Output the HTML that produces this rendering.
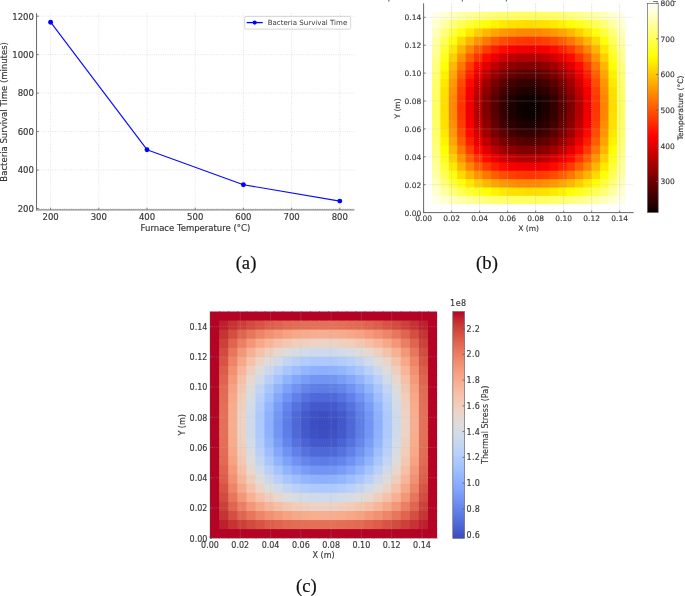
<!DOCTYPE html>
<html lang="en"><head><meta charset="utf-8"><title>Figure</title>
<style>html,body{margin:0;padding:0;background:#fff}svg{display:block}</style></head>
<body>
<svg width="685" height="596" viewBox="0 0 685 596">
<rect width="685" height="596" fill="#fff"/>
<g stroke="#cecece" stroke-width="0.7" stroke-dasharray="0.8 1.5" fill="none">
<path d="M50.60 13.2V209.9"/>
<path d="M98.80 13.2V209.9"/>
<path d="M147.00 13.2V209.9"/>
<path d="M195.20 13.2V209.9"/>
<path d="M243.40 13.2V209.9"/>
<path d="M291.60 13.2V209.9"/>
<path d="M339.80 13.2V209.9"/>
<path d="M36.55 208.50H354.4"/>
<path d="M36.55 170.04H354.4"/>
<path d="M36.55 131.58H354.4"/>
<path d="M36.55 93.12H354.4"/>
<path d="M36.55 54.66H354.4"/>
<path d="M36.55 16.20H354.4"/>
</g>
<g stroke="#5a5a5a" stroke-width="0.8" fill="none">
<path d="M50.60 209.9v-2.2"/>
<path d="M98.80 209.9v-2.2"/>
<path d="M147.00 209.9v-2.2"/>
<path d="M195.20 209.9v-2.2"/>
<path d="M243.40 209.9v-2.2"/>
<path d="M291.60 209.9v-2.2"/>
<path d="M339.80 209.9v-2.2"/>
<path d="M36.55 208.50h2.2"/>
<path d="M36.55 170.04h2.2"/>
<path d="M36.55 131.58h2.2"/>
<path d="M36.55 93.12h2.2"/>
<path d="M36.55 54.66h2.2"/>
<path d="M36.55 16.20h2.2"/>
</g>
<path d="M50.60 22.20 L147.00 149.70 L243.40 184.70 L339.80 201.10" stroke="#0a0aff" stroke-width="1.15" fill="none" stroke-linejoin="round"/>
<circle cx="50.60" cy="22.20" r="2.45" fill="#0000ff"/>
<circle cx="147.00" cy="149.70" r="2.45" fill="#0000ff"/>
<circle cx="243.40" cy="184.70" r="2.45" fill="#0000ff"/>
<circle cx="339.80" cy="201.10" r="2.45" fill="#0000ff"/>
<path d="M36.55 13.2V210.5" stroke="#666" stroke-width="1" fill="none"/>
<path d="M36.05 209.9H354.4" stroke="#888" stroke-width="1.4" fill="none"/>
<g font-family="'DejaVu Sans','Liberation Sans',sans-serif" font-size="8.5" fill="#383838" stroke="#383838" stroke-width="0.18">
<text x="50.60" y="219.6" text-anchor="middle">200</text>
<text x="98.80" y="219.6" text-anchor="middle">300</text>
<text x="147.00" y="219.6" text-anchor="middle">400</text>
<text x="195.20" y="219.6" text-anchor="middle">500</text>
<text x="243.40" y="219.6" text-anchor="middle">600</text>
<text x="291.60" y="219.6" text-anchor="middle">700</text>
<text x="339.80" y="219.6" text-anchor="middle">800</text>
<text x="33.95" y="211.80" text-anchor="end">200</text>
<text x="33.95" y="173.34" text-anchor="end">400</text>
<text x="33.95" y="134.88" text-anchor="end">600</text>
<text x="33.95" y="96.42" text-anchor="end">800</text>
<text x="33.95" y="57.96" text-anchor="end">1000</text>
<text x="33.95" y="19.50" text-anchor="end">1200</text>
<text x="195.47" y="231.1" text-anchor="middle">Furnace Temperature (°C)</text>
<text transform="translate(6.7 111.85) rotate(-90)" text-anchor="middle">Bacteria Survival Time (minutes)</text>
</g>
<rect x="244.7" y="16.4" width="106" height="12.7" rx="1.4" fill="#fff" fill-opacity="0.8" stroke="#cccccc" stroke-width="0.8"/>
<path d="M246.7 22.6H262.7" stroke="#0000ff" stroke-width="1.3"/>
<circle cx="254.7" cy="22.6" r="2.1" fill="#0000ff"/>
<text x="267.7" y="25.2" font-family="'DejaVu Sans','Liberation Sans',sans-serif" font-size="7.07" fill="#383838">Bacteria Survival Time</text>
<g>
<rect x="423.60" y="3.35" width="9.40" height="9.37" fill="#ffffff"/>
<rect x="432.00" y="3.35" width="9.40" height="9.37" fill="#ffffff"/>
<rect x="440.41" y="3.35" width="9.40" height="9.37" fill="#ffffff"/>
<rect x="448.81" y="3.35" width="9.40" height="9.37" fill="#ffffff"/>
<rect x="457.22" y="3.35" width="9.40" height="9.37" fill="#ffffff"/>
<rect x="465.62" y="3.35" width="9.40" height="9.37" fill="#ffffff"/>
<rect x="474.02" y="3.35" width="9.40" height="9.37" fill="#ffffff"/>
<rect x="482.43" y="3.35" width="9.40" height="9.37" fill="#ffffff"/>
<rect x="490.83" y="3.35" width="9.40" height="9.37" fill="#ffffff"/>
<rect x="499.24" y="3.35" width="9.40" height="9.37" fill="#ffffff"/>
<rect x="507.64" y="3.35" width="9.40" height="9.37" fill="#ffffff"/>
<rect x="516.04" y="3.35" width="9.40" height="9.37" fill="#ffffff"/>
<rect x="524.45" y="3.35" width="9.40" height="9.37" fill="#ffffff"/>
<rect x="532.85" y="3.35" width="9.40" height="9.37" fill="#ffffff"/>
<rect x="541.26" y="3.35" width="9.40" height="9.37" fill="#ffffff"/>
<rect x="549.66" y="3.35" width="9.40" height="9.37" fill="#ffffff"/>
<rect x="558.06" y="3.35" width="9.40" height="9.37" fill="#ffffff"/>
<rect x="566.47" y="3.35" width="9.40" height="9.37" fill="#ffffff"/>
<rect x="574.87" y="3.35" width="9.40" height="9.37" fill="#ffffff"/>
<rect x="583.28" y="3.35" width="9.40" height="9.37" fill="#ffffff"/>
<rect x="591.68" y="3.35" width="9.40" height="9.37" fill="#ffffff"/>
<rect x="600.08" y="3.35" width="9.40" height="9.37" fill="#ffffff"/>
<rect x="608.49" y="3.35" width="9.40" height="9.37" fill="#ffffff"/>
<rect x="616.89" y="3.35" width="9.40" height="9.37" fill="#ffffff"/>
<rect x="625.30" y="3.35" width="8.40" height="9.37" fill="#ffffff"/>
<rect x="423.60" y="11.72" width="9.40" height="9.37" fill="#ffffff"/>
<rect x="432.00" y="11.72" width="9.40" height="9.37" fill="#ffffe7"/>
<rect x="440.41" y="11.72" width="9.40" height="9.37" fill="#ffffd0"/>
<rect x="448.81" y="11.72" width="9.40" height="9.37" fill="#ffffbc"/>
<rect x="457.22" y="11.72" width="9.40" height="9.37" fill="#ffffa8"/>
<rect x="465.62" y="11.72" width="9.40" height="9.37" fill="#ffff99"/>
<rect x="474.02" y="11.72" width="9.40" height="9.37" fill="#ffff89"/>
<rect x="482.43" y="11.72" width="9.40" height="9.37" fill="#ffff7d"/>
<rect x="490.83" y="11.72" width="9.40" height="9.37" fill="#ffff71"/>
<rect x="499.24" y="11.72" width="9.40" height="9.37" fill="#ffff69"/>
<rect x="507.64" y="11.72" width="9.40" height="9.37" fill="#ffff65"/>
<rect x="516.04" y="11.72" width="9.40" height="9.37" fill="#ffff61"/>
<rect x="524.45" y="11.72" width="9.40" height="9.37" fill="#ffff61"/>
<rect x="532.85" y="11.72" width="9.40" height="9.37" fill="#ffff61"/>
<rect x="541.26" y="11.72" width="9.40" height="9.37" fill="#ffff65"/>
<rect x="549.66" y="11.72" width="9.40" height="9.37" fill="#ffff69"/>
<rect x="558.06" y="11.72" width="9.40" height="9.37" fill="#ffff71"/>
<rect x="566.47" y="11.72" width="9.40" height="9.37" fill="#ffff7d"/>
<rect x="574.87" y="11.72" width="9.40" height="9.37" fill="#ffff89"/>
<rect x="583.28" y="11.72" width="9.40" height="9.37" fill="#ffff99"/>
<rect x="591.68" y="11.72" width="9.40" height="9.37" fill="#ffffa8"/>
<rect x="600.08" y="11.72" width="9.40" height="9.37" fill="#ffffbc"/>
<rect x="608.49" y="11.72" width="9.40" height="9.37" fill="#ffffd0"/>
<rect x="616.89" y="11.72" width="9.40" height="9.37" fill="#ffffe7"/>
<rect x="625.30" y="11.72" width="8.40" height="9.37" fill="#ffffff"/>
<rect x="423.60" y="20.09" width="9.40" height="9.37" fill="#ffffff"/>
<rect x="432.00" y="20.09" width="9.40" height="9.37" fill="#ffffd0"/>
<rect x="440.41" y="20.09" width="9.40" height="9.37" fill="#ffffa4"/>
<rect x="448.81" y="20.09" width="9.40" height="9.37" fill="#ffff79"/>
<rect x="457.22" y="20.09" width="9.40" height="9.37" fill="#ffff56"/>
<rect x="465.62" y="20.09" width="9.40" height="9.37" fill="#ffff36"/>
<rect x="474.02" y="20.09" width="9.40" height="9.37" fill="#ffff1b"/>
<rect x="482.43" y="20.09" width="9.40" height="9.37" fill="#ffff03"/>
<rect x="490.83" y="20.09" width="9.40" height="9.37" fill="#fff400"/>
<rect x="499.24" y="20.09" width="9.40" height="9.37" fill="#ffe900"/>
<rect x="507.64" y="20.09" width="9.40" height="9.37" fill="#ffe100"/>
<rect x="516.04" y="20.09" width="9.40" height="9.37" fill="#ffdf00"/>
<rect x="524.45" y="20.09" width="9.40" height="9.37" fill="#ffdc00"/>
<rect x="532.85" y="20.09" width="9.40" height="9.37" fill="#ffdf00"/>
<rect x="541.26" y="20.09" width="9.40" height="9.37" fill="#ffe100"/>
<rect x="549.66" y="20.09" width="9.40" height="9.37" fill="#ffe900"/>
<rect x="558.06" y="20.09" width="9.40" height="9.37" fill="#fff400"/>
<rect x="566.47" y="20.09" width="9.40" height="9.37" fill="#ffff03"/>
<rect x="574.87" y="20.09" width="9.40" height="9.37" fill="#ffff1b"/>
<rect x="583.28" y="20.09" width="9.40" height="9.37" fill="#ffff36"/>
<rect x="591.68" y="20.09" width="9.40" height="9.37" fill="#ffff56"/>
<rect x="600.08" y="20.09" width="9.40" height="9.37" fill="#ffff79"/>
<rect x="608.49" y="20.09" width="9.40" height="9.37" fill="#ffffa4"/>
<rect x="616.89" y="20.09" width="9.40" height="9.37" fill="#ffffd0"/>
<rect x="625.30" y="20.09" width="8.40" height="9.37" fill="#ffffff"/>
<rect x="423.60" y="28.46" width="9.40" height="9.37" fill="#ffffff"/>
<rect x="432.00" y="28.46" width="9.40" height="9.37" fill="#ffffbc"/>
<rect x="440.41" y="28.46" width="9.40" height="9.37" fill="#ffff79"/>
<rect x="448.81" y="28.46" width="9.40" height="9.37" fill="#ffff42"/>
<rect x="457.22" y="28.46" width="9.40" height="9.37" fill="#ffff0b"/>
<rect x="465.62" y="28.46" width="9.40" height="9.37" fill="#ffe900"/>
<rect x="474.02" y="28.46" width="9.40" height="9.37" fill="#ffcf00"/>
<rect x="482.43" y="28.46" width="9.40" height="9.37" fill="#ffb700"/>
<rect x="490.83" y="28.46" width="9.40" height="9.37" fill="#ffa500"/>
<rect x="499.24" y="28.46" width="9.40" height="9.37" fill="#ff9800"/>
<rect x="507.64" y="28.46" width="9.40" height="9.37" fill="#ff8e00"/>
<rect x="516.04" y="28.46" width="9.40" height="9.37" fill="#ff8600"/>
<rect x="524.45" y="28.46" width="9.40" height="9.37" fill="#ff8600"/>
<rect x="532.85" y="28.46" width="9.40" height="9.37" fill="#ff8600"/>
<rect x="541.26" y="28.46" width="9.40" height="9.37" fill="#ff8e00"/>
<rect x="549.66" y="28.46" width="9.40" height="9.37" fill="#ff9800"/>
<rect x="558.06" y="28.46" width="9.40" height="9.37" fill="#ffa500"/>
<rect x="566.47" y="28.46" width="9.40" height="9.37" fill="#ffb700"/>
<rect x="574.87" y="28.46" width="9.40" height="9.37" fill="#ffcf00"/>
<rect x="583.28" y="28.46" width="9.40" height="9.37" fill="#ffe900"/>
<rect x="591.68" y="28.46" width="9.40" height="9.37" fill="#ffff0b"/>
<rect x="600.08" y="28.46" width="9.40" height="9.37" fill="#ffff42"/>
<rect x="608.49" y="28.46" width="9.40" height="9.37" fill="#ffff79"/>
<rect x="616.89" y="28.46" width="9.40" height="9.37" fill="#ffffbc"/>
<rect x="625.30" y="28.46" width="8.40" height="9.37" fill="#ffffff"/>
<rect x="423.60" y="36.83" width="9.40" height="9.37" fill="#ffffff"/>
<rect x="432.00" y="36.83" width="9.40" height="9.37" fill="#ffffa8"/>
<rect x="440.41" y="36.83" width="9.40" height="9.37" fill="#ffff56"/>
<rect x="448.81" y="36.83" width="9.40" height="9.37" fill="#ffff0b"/>
<rect x="457.22" y="36.83" width="9.40" height="9.37" fill="#ffda00"/>
<rect x="465.62" y="36.83" width="9.40" height="9.37" fill="#ffb500"/>
<rect x="474.02" y="36.83" width="9.40" height="9.37" fill="#ff9300"/>
<rect x="482.43" y="36.83" width="9.40" height="9.37" fill="#ff7600"/>
<rect x="490.83" y="36.83" width="9.40" height="9.37" fill="#ff5e00"/>
<rect x="499.24" y="36.83" width="9.40" height="9.37" fill="#ff4c00"/>
<rect x="507.64" y="36.83" width="9.40" height="9.37" fill="#ff3f00"/>
<rect x="516.04" y="36.83" width="9.40" height="9.37" fill="#ff3700"/>
<rect x="524.45" y="36.83" width="9.40" height="9.37" fill="#ff3400"/>
<rect x="532.85" y="36.83" width="9.40" height="9.37" fill="#ff3700"/>
<rect x="541.26" y="36.83" width="9.40" height="9.37" fill="#ff3f00"/>
<rect x="549.66" y="36.83" width="9.40" height="9.37" fill="#ff4c00"/>
<rect x="558.06" y="36.83" width="9.40" height="9.37" fill="#ff5e00"/>
<rect x="566.47" y="36.83" width="9.40" height="9.37" fill="#ff7600"/>
<rect x="574.87" y="36.83" width="9.40" height="9.37" fill="#ff9300"/>
<rect x="583.28" y="36.83" width="9.40" height="9.37" fill="#ffb500"/>
<rect x="591.68" y="36.83" width="9.40" height="9.37" fill="#ffda00"/>
<rect x="600.08" y="36.83" width="9.40" height="9.37" fill="#ffff0b"/>
<rect x="608.49" y="36.83" width="9.40" height="9.37" fill="#ffff56"/>
<rect x="616.89" y="36.83" width="9.40" height="9.37" fill="#ffffa8"/>
<rect x="625.30" y="36.83" width="8.40" height="9.37" fill="#ffffff"/>
<rect x="423.60" y="45.20" width="9.40" height="9.37" fill="#ffffff"/>
<rect x="432.00" y="45.20" width="9.40" height="9.37" fill="#ffff99"/>
<rect x="440.41" y="45.20" width="9.40" height="9.37" fill="#ffff36"/>
<rect x="448.81" y="45.20" width="9.40" height="9.37" fill="#ffe900"/>
<rect x="457.22" y="45.20" width="9.40" height="9.37" fill="#ffb500"/>
<rect x="465.62" y="45.20" width="9.40" height="9.37" fill="#ff8600"/>
<rect x="474.02" y="45.20" width="9.40" height="9.37" fill="#ff5e00"/>
<rect x="482.43" y="45.20" width="9.40" height="9.37" fill="#ff3c00"/>
<rect x="490.83" y="45.20" width="9.40" height="9.37" fill="#ff1f00"/>
<rect x="499.24" y="45.20" width="9.40" height="9.37" fill="#ff0a00"/>
<rect x="507.64" y="45.20" width="9.40" height="9.37" fill="#f90000"/>
<rect x="516.04" y="45.20" width="9.40" height="9.37" fill="#f20000"/>
<rect x="524.45" y="45.20" width="9.40" height="9.37" fill="#ef0000"/>
<rect x="532.85" y="45.20" width="9.40" height="9.37" fill="#f20000"/>
<rect x="541.26" y="45.20" width="9.40" height="9.37" fill="#f90000"/>
<rect x="549.66" y="45.20" width="9.40" height="9.37" fill="#ff0a00"/>
<rect x="558.06" y="45.20" width="9.40" height="9.37" fill="#ff1f00"/>
<rect x="566.47" y="45.20" width="9.40" height="9.37" fill="#ff3c00"/>
<rect x="574.87" y="45.20" width="9.40" height="9.37" fill="#ff5e00"/>
<rect x="583.28" y="45.20" width="9.40" height="9.37" fill="#ff8600"/>
<rect x="591.68" y="45.20" width="9.40" height="9.37" fill="#ffb500"/>
<rect x="600.08" y="45.20" width="9.40" height="9.37" fill="#ffe900"/>
<rect x="608.49" y="45.20" width="9.40" height="9.37" fill="#ffff36"/>
<rect x="616.89" y="45.20" width="9.40" height="9.37" fill="#ffff99"/>
<rect x="625.30" y="45.20" width="8.40" height="9.37" fill="#ffffff"/>
<rect x="423.60" y="53.57" width="9.40" height="9.37" fill="#ffffff"/>
<rect x="432.00" y="53.57" width="9.40" height="9.37" fill="#ffff89"/>
<rect x="440.41" y="53.57" width="9.40" height="9.37" fill="#ffff1b"/>
<rect x="448.81" y="53.57" width="9.40" height="9.37" fill="#ffcf00"/>
<rect x="457.22" y="53.57" width="9.40" height="9.37" fill="#ff9300"/>
<rect x="465.62" y="53.57" width="9.40" height="9.37" fill="#ff5e00"/>
<rect x="474.02" y="53.57" width="9.40" height="9.37" fill="#ff3200"/>
<rect x="482.43" y="53.57" width="9.40" height="9.37" fill="#ff0a00"/>
<rect x="490.83" y="53.57" width="9.40" height="9.37" fill="#ea0000"/>
<rect x="499.24" y="53.57" width="9.40" height="9.37" fill="#d20000"/>
<rect x="507.64" y="53.57" width="9.40" height="9.37" fill="#c00000"/>
<rect x="516.04" y="53.57" width="9.40" height="9.37" fill="#b50000"/>
<rect x="524.45" y="53.57" width="9.40" height="9.37" fill="#b30000"/>
<rect x="532.85" y="53.57" width="9.40" height="9.37" fill="#b50000"/>
<rect x="541.26" y="53.57" width="9.40" height="9.37" fill="#c00000"/>
<rect x="549.66" y="53.57" width="9.40" height="9.37" fill="#d20000"/>
<rect x="558.06" y="53.57" width="9.40" height="9.37" fill="#ea0000"/>
<rect x="566.47" y="53.57" width="9.40" height="9.37" fill="#ff0a00"/>
<rect x="574.87" y="53.57" width="9.40" height="9.37" fill="#ff3200"/>
<rect x="583.28" y="53.57" width="9.40" height="9.37" fill="#ff5e00"/>
<rect x="591.68" y="53.57" width="9.40" height="9.37" fill="#ff9300"/>
<rect x="600.08" y="53.57" width="9.40" height="9.37" fill="#ffcf00"/>
<rect x="608.49" y="53.57" width="9.40" height="9.37" fill="#ffff1b"/>
<rect x="616.89" y="53.57" width="9.40" height="9.37" fill="#ffff89"/>
<rect x="625.30" y="53.57" width="8.40" height="9.37" fill="#ffffff"/>
<rect x="423.60" y="61.94" width="9.40" height="9.37" fill="#ffffff"/>
<rect x="432.00" y="61.94" width="9.40" height="9.37" fill="#ffff7d"/>
<rect x="440.41" y="61.94" width="9.40" height="9.37" fill="#ffff03"/>
<rect x="448.81" y="61.94" width="9.40" height="9.37" fill="#ffb700"/>
<rect x="457.22" y="61.94" width="9.40" height="9.37" fill="#ff7600"/>
<rect x="465.62" y="61.94" width="9.40" height="9.37" fill="#ff3c00"/>
<rect x="474.02" y="61.94" width="9.40" height="9.37" fill="#ff0a00"/>
<rect x="482.43" y="61.94" width="9.40" height="9.37" fill="#df0000"/>
<rect x="490.83" y="61.94" width="9.40" height="9.37" fill="#ba0000"/>
<rect x="499.24" y="61.94" width="9.40" height="9.37" fill="#a00000"/>
<rect x="507.64" y="61.94" width="9.40" height="9.37" fill="#8e0000"/>
<rect x="516.04" y="61.94" width="9.40" height="9.37" fill="#810000"/>
<rect x="524.45" y="61.94" width="9.40" height="9.37" fill="#7e0000"/>
<rect x="532.85" y="61.94" width="9.40" height="9.37" fill="#810000"/>
<rect x="541.26" y="61.94" width="9.40" height="9.37" fill="#8e0000"/>
<rect x="549.66" y="61.94" width="9.40" height="9.37" fill="#a00000"/>
<rect x="558.06" y="61.94" width="9.40" height="9.37" fill="#ba0000"/>
<rect x="566.47" y="61.94" width="9.40" height="9.37" fill="#df0000"/>
<rect x="574.87" y="61.94" width="9.40" height="9.37" fill="#ff0a00"/>
<rect x="583.28" y="61.94" width="9.40" height="9.37" fill="#ff3c00"/>
<rect x="591.68" y="61.94" width="9.40" height="9.37" fill="#ff7600"/>
<rect x="600.08" y="61.94" width="9.40" height="9.37" fill="#ffb700"/>
<rect x="608.49" y="61.94" width="9.40" height="9.37" fill="#ffff03"/>
<rect x="616.89" y="61.94" width="9.40" height="9.37" fill="#ffff7d"/>
<rect x="625.30" y="61.94" width="8.40" height="9.37" fill="#ffffff"/>
<rect x="423.60" y="70.31" width="9.40" height="9.37" fill="#ffffff"/>
<rect x="432.00" y="70.31" width="9.40" height="9.37" fill="#ffff71"/>
<rect x="440.41" y="70.31" width="9.40" height="9.37" fill="#fff400"/>
<rect x="448.81" y="70.31" width="9.40" height="9.37" fill="#ffa500"/>
<rect x="457.22" y="70.31" width="9.40" height="9.37" fill="#ff5e00"/>
<rect x="465.62" y="70.31" width="9.40" height="9.37" fill="#ff1f00"/>
<rect x="474.02" y="70.31" width="9.40" height="9.37" fill="#ea0000"/>
<rect x="482.43" y="70.31" width="9.40" height="9.37" fill="#ba0000"/>
<rect x="490.83" y="70.31" width="9.40" height="9.37" fill="#960000"/>
<rect x="499.24" y="70.31" width="9.40" height="9.37" fill="#790000"/>
<rect x="507.64" y="70.31" width="9.40" height="9.37" fill="#640000"/>
<rect x="516.04" y="70.31" width="9.40" height="9.37" fill="#590000"/>
<rect x="524.45" y="70.31" width="9.40" height="9.37" fill="#540000"/>
<rect x="532.85" y="70.31" width="9.40" height="9.37" fill="#590000"/>
<rect x="541.26" y="70.31" width="9.40" height="9.37" fill="#640000"/>
<rect x="549.66" y="70.31" width="9.40" height="9.37" fill="#790000"/>
<rect x="558.06" y="70.31" width="9.40" height="9.37" fill="#960000"/>
<rect x="566.47" y="70.31" width="9.40" height="9.37" fill="#ba0000"/>
<rect x="574.87" y="70.31" width="9.40" height="9.37" fill="#ea0000"/>
<rect x="583.28" y="70.31" width="9.40" height="9.37" fill="#ff1f00"/>
<rect x="591.68" y="70.31" width="9.40" height="9.37" fill="#ff5e00"/>
<rect x="600.08" y="70.31" width="9.40" height="9.37" fill="#ffa500"/>
<rect x="608.49" y="70.31" width="9.40" height="9.37" fill="#fff400"/>
<rect x="616.89" y="70.31" width="9.40" height="9.37" fill="#ffff71"/>
<rect x="625.30" y="70.31" width="8.40" height="9.37" fill="#ffffff"/>
<rect x="423.60" y="78.68" width="9.40" height="9.37" fill="#ffffff"/>
<rect x="432.00" y="78.68" width="9.40" height="9.37" fill="#ffff69"/>
<rect x="440.41" y="78.68" width="9.40" height="9.37" fill="#ffe900"/>
<rect x="448.81" y="78.68" width="9.40" height="9.37" fill="#ff9800"/>
<rect x="457.22" y="78.68" width="9.40" height="9.37" fill="#ff4c00"/>
<rect x="465.62" y="78.68" width="9.40" height="9.37" fill="#ff0a00"/>
<rect x="474.02" y="78.68" width="9.40" height="9.37" fill="#d20000"/>
<rect x="482.43" y="78.68" width="9.40" height="9.37" fill="#a00000"/>
<rect x="490.83" y="78.68" width="9.40" height="9.37" fill="#790000"/>
<rect x="499.24" y="78.68" width="9.40" height="9.37" fill="#5c0000"/>
<rect x="507.64" y="78.68" width="9.40" height="9.37" fill="#440000"/>
<rect x="516.04" y="78.68" width="9.40" height="9.37" fill="#370000"/>
<rect x="524.45" y="78.68" width="9.40" height="9.37" fill="#350000"/>
<rect x="532.85" y="78.68" width="9.40" height="9.37" fill="#370000"/>
<rect x="541.26" y="78.68" width="9.40" height="9.37" fill="#440000"/>
<rect x="549.66" y="78.68" width="9.40" height="9.37" fill="#5c0000"/>
<rect x="558.06" y="78.68" width="9.40" height="9.37" fill="#790000"/>
<rect x="566.47" y="78.68" width="9.40" height="9.37" fill="#a00000"/>
<rect x="574.87" y="78.68" width="9.40" height="9.37" fill="#d20000"/>
<rect x="583.28" y="78.68" width="9.40" height="9.37" fill="#ff0a00"/>
<rect x="591.68" y="78.68" width="9.40" height="9.37" fill="#ff4c00"/>
<rect x="600.08" y="78.68" width="9.40" height="9.37" fill="#ff9800"/>
<rect x="608.49" y="78.68" width="9.40" height="9.37" fill="#ffe900"/>
<rect x="616.89" y="78.68" width="9.40" height="9.37" fill="#ffff69"/>
<rect x="625.30" y="78.68" width="8.40" height="9.37" fill="#ffffff"/>
<rect x="423.60" y="87.05" width="9.40" height="9.37" fill="#ffffff"/>
<rect x="432.00" y="87.05" width="9.40" height="9.37" fill="#ffff65"/>
<rect x="440.41" y="87.05" width="9.40" height="9.37" fill="#ffe100"/>
<rect x="448.81" y="87.05" width="9.40" height="9.37" fill="#ff8e00"/>
<rect x="457.22" y="87.05" width="9.40" height="9.37" fill="#ff3f00"/>
<rect x="465.62" y="87.05" width="9.40" height="9.37" fill="#f90000"/>
<rect x="474.02" y="87.05" width="9.40" height="9.37" fill="#c00000"/>
<rect x="482.43" y="87.05" width="9.40" height="9.37" fill="#8e0000"/>
<rect x="490.83" y="87.05" width="9.40" height="9.37" fill="#640000"/>
<rect x="499.24" y="87.05" width="9.40" height="9.37" fill="#440000"/>
<rect x="507.64" y="87.05" width="9.40" height="9.37" fill="#2f0000"/>
<rect x="516.04" y="87.05" width="9.40" height="9.37" fill="#200000"/>
<rect x="524.45" y="87.05" width="9.40" height="9.37" fill="#1d0000"/>
<rect x="532.85" y="87.05" width="9.40" height="9.37" fill="#200000"/>
<rect x="541.26" y="87.05" width="9.40" height="9.37" fill="#2f0000"/>
<rect x="549.66" y="87.05" width="9.40" height="9.37" fill="#440000"/>
<rect x="558.06" y="87.05" width="9.40" height="9.37" fill="#640000"/>
<rect x="566.47" y="87.05" width="9.40" height="9.37" fill="#8e0000"/>
<rect x="574.87" y="87.05" width="9.40" height="9.37" fill="#c00000"/>
<rect x="583.28" y="87.05" width="9.40" height="9.37" fill="#f90000"/>
<rect x="591.68" y="87.05" width="9.40" height="9.37" fill="#ff3f00"/>
<rect x="600.08" y="87.05" width="9.40" height="9.37" fill="#ff8e00"/>
<rect x="608.49" y="87.05" width="9.40" height="9.37" fill="#ffe100"/>
<rect x="616.89" y="87.05" width="9.40" height="9.37" fill="#ffff65"/>
<rect x="625.30" y="87.05" width="8.40" height="9.37" fill="#ffffff"/>
<rect x="423.60" y="95.42" width="9.40" height="9.37" fill="#ffffff"/>
<rect x="432.00" y="95.42" width="9.40" height="9.37" fill="#ffff61"/>
<rect x="440.41" y="95.42" width="9.40" height="9.37" fill="#ffdf00"/>
<rect x="448.81" y="95.42" width="9.40" height="9.37" fill="#ff8600"/>
<rect x="457.22" y="95.42" width="9.40" height="9.37" fill="#ff3700"/>
<rect x="465.62" y="95.42" width="9.40" height="9.37" fill="#f20000"/>
<rect x="474.02" y="95.42" width="9.40" height="9.37" fill="#b50000"/>
<rect x="482.43" y="95.42" width="9.40" height="9.37" fill="#810000"/>
<rect x="490.83" y="95.42" width="9.40" height="9.37" fill="#590000"/>
<rect x="499.24" y="95.42" width="9.40" height="9.37" fill="#370000"/>
<rect x="507.64" y="95.42" width="9.40" height="9.37" fill="#200000"/>
<rect x="516.04" y="95.42" width="9.40" height="9.37" fill="#120000"/>
<rect x="524.45" y="95.42" width="9.40" height="9.37" fill="#0d0000"/>
<rect x="532.85" y="95.42" width="9.40" height="9.37" fill="#120000"/>
<rect x="541.26" y="95.42" width="9.40" height="9.37" fill="#200000"/>
<rect x="549.66" y="95.42" width="9.40" height="9.37" fill="#370000"/>
<rect x="558.06" y="95.42" width="9.40" height="9.37" fill="#590000"/>
<rect x="566.47" y="95.42" width="9.40" height="9.37" fill="#810000"/>
<rect x="574.87" y="95.42" width="9.40" height="9.37" fill="#b50000"/>
<rect x="583.28" y="95.42" width="9.40" height="9.37" fill="#f20000"/>
<rect x="591.68" y="95.42" width="9.40" height="9.37" fill="#ff3700"/>
<rect x="600.08" y="95.42" width="9.40" height="9.37" fill="#ff8600"/>
<rect x="608.49" y="95.42" width="9.40" height="9.37" fill="#ffdf00"/>
<rect x="616.89" y="95.42" width="9.40" height="9.37" fill="#ffff61"/>
<rect x="625.30" y="95.42" width="8.40" height="9.37" fill="#ffffff"/>
<rect x="423.60" y="103.79" width="9.40" height="9.37" fill="#ffffff"/>
<rect x="432.00" y="103.79" width="9.40" height="9.37" fill="#ffff61"/>
<rect x="440.41" y="103.79" width="9.40" height="9.37" fill="#ffdc00"/>
<rect x="448.81" y="103.79" width="9.40" height="9.37" fill="#ff8600"/>
<rect x="457.22" y="103.79" width="9.40" height="9.37" fill="#ff3400"/>
<rect x="465.62" y="103.79" width="9.40" height="9.37" fill="#ef0000"/>
<rect x="474.02" y="103.79" width="9.40" height="9.37" fill="#b30000"/>
<rect x="482.43" y="103.79" width="9.40" height="9.37" fill="#7e0000"/>
<rect x="490.83" y="103.79" width="9.40" height="9.37" fill="#540000"/>
<rect x="499.24" y="103.79" width="9.40" height="9.37" fill="#350000"/>
<rect x="507.64" y="103.79" width="9.40" height="9.37" fill="#1d0000"/>
<rect x="516.04" y="103.79" width="9.40" height="9.37" fill="#0d0000"/>
<rect x="524.45" y="103.79" width="9.40" height="9.37" fill="#0b0000"/>
<rect x="532.85" y="103.79" width="9.40" height="9.37" fill="#0d0000"/>
<rect x="541.26" y="103.79" width="9.40" height="9.37" fill="#1d0000"/>
<rect x="549.66" y="103.79" width="9.40" height="9.37" fill="#350000"/>
<rect x="558.06" y="103.79" width="9.40" height="9.37" fill="#540000"/>
<rect x="566.47" y="103.79" width="9.40" height="9.37" fill="#7e0000"/>
<rect x="574.87" y="103.79" width="9.40" height="9.37" fill="#b30000"/>
<rect x="583.28" y="103.79" width="9.40" height="9.37" fill="#ef0000"/>
<rect x="591.68" y="103.79" width="9.40" height="9.37" fill="#ff3400"/>
<rect x="600.08" y="103.79" width="9.40" height="9.37" fill="#ff8600"/>
<rect x="608.49" y="103.79" width="9.40" height="9.37" fill="#ffdc00"/>
<rect x="616.89" y="103.79" width="9.40" height="9.37" fill="#ffff61"/>
<rect x="625.30" y="103.79" width="8.40" height="9.37" fill="#ffffff"/>
<rect x="423.60" y="112.16" width="9.40" height="9.37" fill="#ffffff"/>
<rect x="432.00" y="112.16" width="9.40" height="9.37" fill="#ffff61"/>
<rect x="440.41" y="112.16" width="9.40" height="9.37" fill="#ffdf00"/>
<rect x="448.81" y="112.16" width="9.40" height="9.37" fill="#ff8600"/>
<rect x="457.22" y="112.16" width="9.40" height="9.37" fill="#ff3700"/>
<rect x="465.62" y="112.16" width="9.40" height="9.37" fill="#f20000"/>
<rect x="474.02" y="112.16" width="9.40" height="9.37" fill="#b50000"/>
<rect x="482.43" y="112.16" width="9.40" height="9.37" fill="#810000"/>
<rect x="490.83" y="112.16" width="9.40" height="9.37" fill="#590000"/>
<rect x="499.24" y="112.16" width="9.40" height="9.37" fill="#370000"/>
<rect x="507.64" y="112.16" width="9.40" height="9.37" fill="#200000"/>
<rect x="516.04" y="112.16" width="9.40" height="9.37" fill="#120000"/>
<rect x="524.45" y="112.16" width="9.40" height="9.37" fill="#0d0000"/>
<rect x="532.85" y="112.16" width="9.40" height="9.37" fill="#120000"/>
<rect x="541.26" y="112.16" width="9.40" height="9.37" fill="#200000"/>
<rect x="549.66" y="112.16" width="9.40" height="9.37" fill="#370000"/>
<rect x="558.06" y="112.16" width="9.40" height="9.37" fill="#590000"/>
<rect x="566.47" y="112.16" width="9.40" height="9.37" fill="#810000"/>
<rect x="574.87" y="112.16" width="9.40" height="9.37" fill="#b50000"/>
<rect x="583.28" y="112.16" width="9.40" height="9.37" fill="#f20000"/>
<rect x="591.68" y="112.16" width="9.40" height="9.37" fill="#ff3700"/>
<rect x="600.08" y="112.16" width="9.40" height="9.37" fill="#ff8600"/>
<rect x="608.49" y="112.16" width="9.40" height="9.37" fill="#ffdf00"/>
<rect x="616.89" y="112.16" width="9.40" height="9.37" fill="#ffff61"/>
<rect x="625.30" y="112.16" width="8.40" height="9.37" fill="#ffffff"/>
<rect x="423.60" y="120.53" width="9.40" height="9.37" fill="#ffffff"/>
<rect x="432.00" y="120.53" width="9.40" height="9.37" fill="#ffff65"/>
<rect x="440.41" y="120.53" width="9.40" height="9.37" fill="#ffe100"/>
<rect x="448.81" y="120.53" width="9.40" height="9.37" fill="#ff8e00"/>
<rect x="457.22" y="120.53" width="9.40" height="9.37" fill="#ff3f00"/>
<rect x="465.62" y="120.53" width="9.40" height="9.37" fill="#f90000"/>
<rect x="474.02" y="120.53" width="9.40" height="9.37" fill="#c00000"/>
<rect x="482.43" y="120.53" width="9.40" height="9.37" fill="#8e0000"/>
<rect x="490.83" y="120.53" width="9.40" height="9.37" fill="#640000"/>
<rect x="499.24" y="120.53" width="9.40" height="9.37" fill="#440000"/>
<rect x="507.64" y="120.53" width="9.40" height="9.37" fill="#2f0000"/>
<rect x="516.04" y="120.53" width="9.40" height="9.37" fill="#200000"/>
<rect x="524.45" y="120.53" width="9.40" height="9.37" fill="#1d0000"/>
<rect x="532.85" y="120.53" width="9.40" height="9.37" fill="#200000"/>
<rect x="541.26" y="120.53" width="9.40" height="9.37" fill="#2f0000"/>
<rect x="549.66" y="120.53" width="9.40" height="9.37" fill="#440000"/>
<rect x="558.06" y="120.53" width="9.40" height="9.37" fill="#640000"/>
<rect x="566.47" y="120.53" width="9.40" height="9.37" fill="#8e0000"/>
<rect x="574.87" y="120.53" width="9.40" height="9.37" fill="#c00000"/>
<rect x="583.28" y="120.53" width="9.40" height="9.37" fill="#f90000"/>
<rect x="591.68" y="120.53" width="9.40" height="9.37" fill="#ff3f00"/>
<rect x="600.08" y="120.53" width="9.40" height="9.37" fill="#ff8e00"/>
<rect x="608.49" y="120.53" width="9.40" height="9.37" fill="#ffe100"/>
<rect x="616.89" y="120.53" width="9.40" height="9.37" fill="#ffff65"/>
<rect x="625.30" y="120.53" width="8.40" height="9.37" fill="#ffffff"/>
<rect x="423.60" y="128.90" width="9.40" height="9.37" fill="#ffffff"/>
<rect x="432.00" y="128.90" width="9.40" height="9.37" fill="#ffff69"/>
<rect x="440.41" y="128.90" width="9.40" height="9.37" fill="#ffe900"/>
<rect x="448.81" y="128.90" width="9.40" height="9.37" fill="#ff9800"/>
<rect x="457.22" y="128.90" width="9.40" height="9.37" fill="#ff4c00"/>
<rect x="465.62" y="128.90" width="9.40" height="9.37" fill="#ff0a00"/>
<rect x="474.02" y="128.90" width="9.40" height="9.37" fill="#d20000"/>
<rect x="482.43" y="128.90" width="9.40" height="9.37" fill="#a00000"/>
<rect x="490.83" y="128.90" width="9.40" height="9.37" fill="#790000"/>
<rect x="499.24" y="128.90" width="9.40" height="9.37" fill="#5c0000"/>
<rect x="507.64" y="128.90" width="9.40" height="9.37" fill="#440000"/>
<rect x="516.04" y="128.90" width="9.40" height="9.37" fill="#370000"/>
<rect x="524.45" y="128.90" width="9.40" height="9.37" fill="#350000"/>
<rect x="532.85" y="128.90" width="9.40" height="9.37" fill="#370000"/>
<rect x="541.26" y="128.90" width="9.40" height="9.37" fill="#440000"/>
<rect x="549.66" y="128.90" width="9.40" height="9.37" fill="#5c0000"/>
<rect x="558.06" y="128.90" width="9.40" height="9.37" fill="#790000"/>
<rect x="566.47" y="128.90" width="9.40" height="9.37" fill="#a00000"/>
<rect x="574.87" y="128.90" width="9.40" height="9.37" fill="#d20000"/>
<rect x="583.28" y="128.90" width="9.40" height="9.37" fill="#ff0a00"/>
<rect x="591.68" y="128.90" width="9.40" height="9.37" fill="#ff4c00"/>
<rect x="600.08" y="128.90" width="9.40" height="9.37" fill="#ff9800"/>
<rect x="608.49" y="128.90" width="9.40" height="9.37" fill="#ffe900"/>
<rect x="616.89" y="128.90" width="9.40" height="9.37" fill="#ffff69"/>
<rect x="625.30" y="128.90" width="8.40" height="9.37" fill="#ffffff"/>
<rect x="423.60" y="137.27" width="9.40" height="9.37" fill="#ffffff"/>
<rect x="432.00" y="137.27" width="9.40" height="9.37" fill="#ffff71"/>
<rect x="440.41" y="137.27" width="9.40" height="9.37" fill="#fff400"/>
<rect x="448.81" y="137.27" width="9.40" height="9.37" fill="#ffa500"/>
<rect x="457.22" y="137.27" width="9.40" height="9.37" fill="#ff5e00"/>
<rect x="465.62" y="137.27" width="9.40" height="9.37" fill="#ff1f00"/>
<rect x="474.02" y="137.27" width="9.40" height="9.37" fill="#ea0000"/>
<rect x="482.43" y="137.27" width="9.40" height="9.37" fill="#ba0000"/>
<rect x="490.83" y="137.27" width="9.40" height="9.37" fill="#960000"/>
<rect x="499.24" y="137.27" width="9.40" height="9.37" fill="#790000"/>
<rect x="507.64" y="137.27" width="9.40" height="9.37" fill="#640000"/>
<rect x="516.04" y="137.27" width="9.40" height="9.37" fill="#590000"/>
<rect x="524.45" y="137.27" width="9.40" height="9.37" fill="#540000"/>
<rect x="532.85" y="137.27" width="9.40" height="9.37" fill="#590000"/>
<rect x="541.26" y="137.27" width="9.40" height="9.37" fill="#640000"/>
<rect x="549.66" y="137.27" width="9.40" height="9.37" fill="#790000"/>
<rect x="558.06" y="137.27" width="9.40" height="9.37" fill="#960000"/>
<rect x="566.47" y="137.27" width="9.40" height="9.37" fill="#ba0000"/>
<rect x="574.87" y="137.27" width="9.40" height="9.37" fill="#ea0000"/>
<rect x="583.28" y="137.27" width="9.40" height="9.37" fill="#ff1f00"/>
<rect x="591.68" y="137.27" width="9.40" height="9.37" fill="#ff5e00"/>
<rect x="600.08" y="137.27" width="9.40" height="9.37" fill="#ffa500"/>
<rect x="608.49" y="137.27" width="9.40" height="9.37" fill="#fff400"/>
<rect x="616.89" y="137.27" width="9.40" height="9.37" fill="#ffff71"/>
<rect x="625.30" y="137.27" width="8.40" height="9.37" fill="#ffffff"/>
<rect x="423.60" y="145.64" width="9.40" height="9.37" fill="#ffffff"/>
<rect x="432.00" y="145.64" width="9.40" height="9.37" fill="#ffff7d"/>
<rect x="440.41" y="145.64" width="9.40" height="9.37" fill="#ffff03"/>
<rect x="448.81" y="145.64" width="9.40" height="9.37" fill="#ffb700"/>
<rect x="457.22" y="145.64" width="9.40" height="9.37" fill="#ff7600"/>
<rect x="465.62" y="145.64" width="9.40" height="9.37" fill="#ff3c00"/>
<rect x="474.02" y="145.64" width="9.40" height="9.37" fill="#ff0a00"/>
<rect x="482.43" y="145.64" width="9.40" height="9.37" fill="#df0000"/>
<rect x="490.83" y="145.64" width="9.40" height="9.37" fill="#ba0000"/>
<rect x="499.24" y="145.64" width="9.40" height="9.37" fill="#a00000"/>
<rect x="507.64" y="145.64" width="9.40" height="9.37" fill="#8e0000"/>
<rect x="516.04" y="145.64" width="9.40" height="9.37" fill="#810000"/>
<rect x="524.45" y="145.64" width="9.40" height="9.37" fill="#7e0000"/>
<rect x="532.85" y="145.64" width="9.40" height="9.37" fill="#810000"/>
<rect x="541.26" y="145.64" width="9.40" height="9.37" fill="#8e0000"/>
<rect x="549.66" y="145.64" width="9.40" height="9.37" fill="#a00000"/>
<rect x="558.06" y="145.64" width="9.40" height="9.37" fill="#ba0000"/>
<rect x="566.47" y="145.64" width="9.40" height="9.37" fill="#df0000"/>
<rect x="574.87" y="145.64" width="9.40" height="9.37" fill="#ff0a00"/>
<rect x="583.28" y="145.64" width="9.40" height="9.37" fill="#ff3c00"/>
<rect x="591.68" y="145.64" width="9.40" height="9.37" fill="#ff7600"/>
<rect x="600.08" y="145.64" width="9.40" height="9.37" fill="#ffb700"/>
<rect x="608.49" y="145.64" width="9.40" height="9.37" fill="#ffff03"/>
<rect x="616.89" y="145.64" width="9.40" height="9.37" fill="#ffff7d"/>
<rect x="625.30" y="145.64" width="8.40" height="9.37" fill="#ffffff"/>
<rect x="423.60" y="154.01" width="9.40" height="9.37" fill="#ffffff"/>
<rect x="432.00" y="154.01" width="9.40" height="9.37" fill="#ffff89"/>
<rect x="440.41" y="154.01" width="9.40" height="9.37" fill="#ffff1b"/>
<rect x="448.81" y="154.01" width="9.40" height="9.37" fill="#ffcf00"/>
<rect x="457.22" y="154.01" width="9.40" height="9.37" fill="#ff9300"/>
<rect x="465.62" y="154.01" width="9.40" height="9.37" fill="#ff5e00"/>
<rect x="474.02" y="154.01" width="9.40" height="9.37" fill="#ff3200"/>
<rect x="482.43" y="154.01" width="9.40" height="9.37" fill="#ff0a00"/>
<rect x="490.83" y="154.01" width="9.40" height="9.37" fill="#ea0000"/>
<rect x="499.24" y="154.01" width="9.40" height="9.37" fill="#d20000"/>
<rect x="507.64" y="154.01" width="9.40" height="9.37" fill="#c00000"/>
<rect x="516.04" y="154.01" width="9.40" height="9.37" fill="#b50000"/>
<rect x="524.45" y="154.01" width="9.40" height="9.37" fill="#b30000"/>
<rect x="532.85" y="154.01" width="9.40" height="9.37" fill="#b50000"/>
<rect x="541.26" y="154.01" width="9.40" height="9.37" fill="#c00000"/>
<rect x="549.66" y="154.01" width="9.40" height="9.37" fill="#d20000"/>
<rect x="558.06" y="154.01" width="9.40" height="9.37" fill="#ea0000"/>
<rect x="566.47" y="154.01" width="9.40" height="9.37" fill="#ff0a00"/>
<rect x="574.87" y="154.01" width="9.40" height="9.37" fill="#ff3200"/>
<rect x="583.28" y="154.01" width="9.40" height="9.37" fill="#ff5e00"/>
<rect x="591.68" y="154.01" width="9.40" height="9.37" fill="#ff9300"/>
<rect x="600.08" y="154.01" width="9.40" height="9.37" fill="#ffcf00"/>
<rect x="608.49" y="154.01" width="9.40" height="9.37" fill="#ffff1b"/>
<rect x="616.89" y="154.01" width="9.40" height="9.37" fill="#ffff89"/>
<rect x="625.30" y="154.01" width="8.40" height="9.37" fill="#ffffff"/>
<rect x="423.60" y="162.38" width="9.40" height="9.37" fill="#ffffff"/>
<rect x="432.00" y="162.38" width="9.40" height="9.37" fill="#ffff99"/>
<rect x="440.41" y="162.38" width="9.40" height="9.37" fill="#ffff36"/>
<rect x="448.81" y="162.38" width="9.40" height="9.37" fill="#ffe900"/>
<rect x="457.22" y="162.38" width="9.40" height="9.37" fill="#ffb500"/>
<rect x="465.62" y="162.38" width="9.40" height="9.37" fill="#ff8600"/>
<rect x="474.02" y="162.38" width="9.40" height="9.37" fill="#ff5e00"/>
<rect x="482.43" y="162.38" width="9.40" height="9.37" fill="#ff3c00"/>
<rect x="490.83" y="162.38" width="9.40" height="9.37" fill="#ff1f00"/>
<rect x="499.24" y="162.38" width="9.40" height="9.37" fill="#ff0a00"/>
<rect x="507.64" y="162.38" width="9.40" height="9.37" fill="#f90000"/>
<rect x="516.04" y="162.38" width="9.40" height="9.37" fill="#f20000"/>
<rect x="524.45" y="162.38" width="9.40" height="9.37" fill="#ef0000"/>
<rect x="532.85" y="162.38" width="9.40" height="9.37" fill="#f20000"/>
<rect x="541.26" y="162.38" width="9.40" height="9.37" fill="#f90000"/>
<rect x="549.66" y="162.38" width="9.40" height="9.37" fill="#ff0a00"/>
<rect x="558.06" y="162.38" width="9.40" height="9.37" fill="#ff1f00"/>
<rect x="566.47" y="162.38" width="9.40" height="9.37" fill="#ff3c00"/>
<rect x="574.87" y="162.38" width="9.40" height="9.37" fill="#ff5e00"/>
<rect x="583.28" y="162.38" width="9.40" height="9.37" fill="#ff8600"/>
<rect x="591.68" y="162.38" width="9.40" height="9.37" fill="#ffb500"/>
<rect x="600.08" y="162.38" width="9.40" height="9.37" fill="#ffe900"/>
<rect x="608.49" y="162.38" width="9.40" height="9.37" fill="#ffff36"/>
<rect x="616.89" y="162.38" width="9.40" height="9.37" fill="#ffff99"/>
<rect x="625.30" y="162.38" width="8.40" height="9.37" fill="#ffffff"/>
<rect x="423.60" y="170.75" width="9.40" height="9.37" fill="#ffffff"/>
<rect x="432.00" y="170.75" width="9.40" height="9.37" fill="#ffffa8"/>
<rect x="440.41" y="170.75" width="9.40" height="9.37" fill="#ffff56"/>
<rect x="448.81" y="170.75" width="9.40" height="9.37" fill="#ffff0b"/>
<rect x="457.22" y="170.75" width="9.40" height="9.37" fill="#ffda00"/>
<rect x="465.62" y="170.75" width="9.40" height="9.37" fill="#ffb500"/>
<rect x="474.02" y="170.75" width="9.40" height="9.37" fill="#ff9300"/>
<rect x="482.43" y="170.75" width="9.40" height="9.37" fill="#ff7600"/>
<rect x="490.83" y="170.75" width="9.40" height="9.37" fill="#ff5e00"/>
<rect x="499.24" y="170.75" width="9.40" height="9.37" fill="#ff4c00"/>
<rect x="507.64" y="170.75" width="9.40" height="9.37" fill="#ff3f00"/>
<rect x="516.04" y="170.75" width="9.40" height="9.37" fill="#ff3700"/>
<rect x="524.45" y="170.75" width="9.40" height="9.37" fill="#ff3400"/>
<rect x="532.85" y="170.75" width="9.40" height="9.37" fill="#ff3700"/>
<rect x="541.26" y="170.75" width="9.40" height="9.37" fill="#ff3f00"/>
<rect x="549.66" y="170.75" width="9.40" height="9.37" fill="#ff4c00"/>
<rect x="558.06" y="170.75" width="9.40" height="9.37" fill="#ff5e00"/>
<rect x="566.47" y="170.75" width="9.40" height="9.37" fill="#ff7600"/>
<rect x="574.87" y="170.75" width="9.40" height="9.37" fill="#ff9300"/>
<rect x="583.28" y="170.75" width="9.40" height="9.37" fill="#ffb500"/>
<rect x="591.68" y="170.75" width="9.40" height="9.37" fill="#ffda00"/>
<rect x="600.08" y="170.75" width="9.40" height="9.37" fill="#ffff0b"/>
<rect x="608.49" y="170.75" width="9.40" height="9.37" fill="#ffff56"/>
<rect x="616.89" y="170.75" width="9.40" height="9.37" fill="#ffffa8"/>
<rect x="625.30" y="170.75" width="8.40" height="9.37" fill="#ffffff"/>
<rect x="423.60" y="179.12" width="9.40" height="9.37" fill="#ffffff"/>
<rect x="432.00" y="179.12" width="9.40" height="9.37" fill="#ffffbc"/>
<rect x="440.41" y="179.12" width="9.40" height="9.37" fill="#ffff79"/>
<rect x="448.81" y="179.12" width="9.40" height="9.37" fill="#ffff42"/>
<rect x="457.22" y="179.12" width="9.40" height="9.37" fill="#ffff0b"/>
<rect x="465.62" y="179.12" width="9.40" height="9.37" fill="#ffe900"/>
<rect x="474.02" y="179.12" width="9.40" height="9.37" fill="#ffcf00"/>
<rect x="482.43" y="179.12" width="9.40" height="9.37" fill="#ffb700"/>
<rect x="490.83" y="179.12" width="9.40" height="9.37" fill="#ffa500"/>
<rect x="499.24" y="179.12" width="9.40" height="9.37" fill="#ff9800"/>
<rect x="507.64" y="179.12" width="9.40" height="9.37" fill="#ff8e00"/>
<rect x="516.04" y="179.12" width="9.40" height="9.37" fill="#ff8600"/>
<rect x="524.45" y="179.12" width="9.40" height="9.37" fill="#ff8600"/>
<rect x="532.85" y="179.12" width="9.40" height="9.37" fill="#ff8600"/>
<rect x="541.26" y="179.12" width="9.40" height="9.37" fill="#ff8e00"/>
<rect x="549.66" y="179.12" width="9.40" height="9.37" fill="#ff9800"/>
<rect x="558.06" y="179.12" width="9.40" height="9.37" fill="#ffa500"/>
<rect x="566.47" y="179.12" width="9.40" height="9.37" fill="#ffb700"/>
<rect x="574.87" y="179.12" width="9.40" height="9.37" fill="#ffcf00"/>
<rect x="583.28" y="179.12" width="9.40" height="9.37" fill="#ffe900"/>
<rect x="591.68" y="179.12" width="9.40" height="9.37" fill="#ffff0b"/>
<rect x="600.08" y="179.12" width="9.40" height="9.37" fill="#ffff42"/>
<rect x="608.49" y="179.12" width="9.40" height="9.37" fill="#ffff79"/>
<rect x="616.89" y="179.12" width="9.40" height="9.37" fill="#ffffbc"/>
<rect x="625.30" y="179.12" width="8.40" height="9.37" fill="#ffffff"/>
<rect x="423.60" y="187.49" width="9.40" height="9.37" fill="#ffffff"/>
<rect x="432.00" y="187.49" width="9.40" height="9.37" fill="#ffffd0"/>
<rect x="440.41" y="187.49" width="9.40" height="9.37" fill="#ffffa4"/>
<rect x="448.81" y="187.49" width="9.40" height="9.37" fill="#ffff79"/>
<rect x="457.22" y="187.49" width="9.40" height="9.37" fill="#ffff56"/>
<rect x="465.62" y="187.49" width="9.40" height="9.37" fill="#ffff36"/>
<rect x="474.02" y="187.49" width="9.40" height="9.37" fill="#ffff1b"/>
<rect x="482.43" y="187.49" width="9.40" height="9.37" fill="#ffff03"/>
<rect x="490.83" y="187.49" width="9.40" height="9.37" fill="#fff400"/>
<rect x="499.24" y="187.49" width="9.40" height="9.37" fill="#ffe900"/>
<rect x="507.64" y="187.49" width="9.40" height="9.37" fill="#ffe100"/>
<rect x="516.04" y="187.49" width="9.40" height="9.37" fill="#ffdf00"/>
<rect x="524.45" y="187.49" width="9.40" height="9.37" fill="#ffdc00"/>
<rect x="532.85" y="187.49" width="9.40" height="9.37" fill="#ffdf00"/>
<rect x="541.26" y="187.49" width="9.40" height="9.37" fill="#ffe100"/>
<rect x="549.66" y="187.49" width="9.40" height="9.37" fill="#ffe900"/>
<rect x="558.06" y="187.49" width="9.40" height="9.37" fill="#fff400"/>
<rect x="566.47" y="187.49" width="9.40" height="9.37" fill="#ffff03"/>
<rect x="574.87" y="187.49" width="9.40" height="9.37" fill="#ffff1b"/>
<rect x="583.28" y="187.49" width="9.40" height="9.37" fill="#ffff36"/>
<rect x="591.68" y="187.49" width="9.40" height="9.37" fill="#ffff56"/>
<rect x="600.08" y="187.49" width="9.40" height="9.37" fill="#ffff79"/>
<rect x="608.49" y="187.49" width="9.40" height="9.37" fill="#ffffa4"/>
<rect x="616.89" y="187.49" width="9.40" height="9.37" fill="#ffffd0"/>
<rect x="625.30" y="187.49" width="8.40" height="9.37" fill="#ffffff"/>
<rect x="423.60" y="195.86" width="9.40" height="9.37" fill="#ffffff"/>
<rect x="432.00" y="195.86" width="9.40" height="9.37" fill="#ffffe7"/>
<rect x="440.41" y="195.86" width="9.40" height="9.37" fill="#ffffd0"/>
<rect x="448.81" y="195.86" width="9.40" height="9.37" fill="#ffffbc"/>
<rect x="457.22" y="195.86" width="9.40" height="9.37" fill="#ffffa8"/>
<rect x="465.62" y="195.86" width="9.40" height="9.37" fill="#ffff99"/>
<rect x="474.02" y="195.86" width="9.40" height="9.37" fill="#ffff89"/>
<rect x="482.43" y="195.86" width="9.40" height="9.37" fill="#ffff7d"/>
<rect x="490.83" y="195.86" width="9.40" height="9.37" fill="#ffff71"/>
<rect x="499.24" y="195.86" width="9.40" height="9.37" fill="#ffff69"/>
<rect x="507.64" y="195.86" width="9.40" height="9.37" fill="#ffff65"/>
<rect x="516.04" y="195.86" width="9.40" height="9.37" fill="#ffff61"/>
<rect x="524.45" y="195.86" width="9.40" height="9.37" fill="#ffff61"/>
<rect x="532.85" y="195.86" width="9.40" height="9.37" fill="#ffff61"/>
<rect x="541.26" y="195.86" width="9.40" height="9.37" fill="#ffff65"/>
<rect x="549.66" y="195.86" width="9.40" height="9.37" fill="#ffff69"/>
<rect x="558.06" y="195.86" width="9.40" height="9.37" fill="#ffff71"/>
<rect x="566.47" y="195.86" width="9.40" height="9.37" fill="#ffff7d"/>
<rect x="574.87" y="195.86" width="9.40" height="9.37" fill="#ffff89"/>
<rect x="583.28" y="195.86" width="9.40" height="9.37" fill="#ffff99"/>
<rect x="591.68" y="195.86" width="9.40" height="9.37" fill="#ffffa8"/>
<rect x="600.08" y="195.86" width="9.40" height="9.37" fill="#ffffbc"/>
<rect x="608.49" y="195.86" width="9.40" height="9.37" fill="#ffffd0"/>
<rect x="616.89" y="195.86" width="9.40" height="9.37" fill="#ffffe7"/>
<rect x="625.30" y="195.86" width="8.40" height="9.37" fill="#ffffff"/>
<rect x="423.60" y="204.23" width="9.40" height="8.37" fill="#ffffff"/>
<rect x="432.00" y="204.23" width="9.40" height="8.37" fill="#ffffff"/>
<rect x="440.41" y="204.23" width="9.40" height="8.37" fill="#ffffff"/>
<rect x="448.81" y="204.23" width="9.40" height="8.37" fill="#ffffff"/>
<rect x="457.22" y="204.23" width="9.40" height="8.37" fill="#ffffff"/>
<rect x="465.62" y="204.23" width="9.40" height="8.37" fill="#ffffff"/>
<rect x="474.02" y="204.23" width="9.40" height="8.37" fill="#ffffff"/>
<rect x="482.43" y="204.23" width="9.40" height="8.37" fill="#ffffff"/>
<rect x="490.83" y="204.23" width="9.40" height="8.37" fill="#ffffff"/>
<rect x="499.24" y="204.23" width="9.40" height="8.37" fill="#ffffff"/>
<rect x="507.64" y="204.23" width="9.40" height="8.37" fill="#ffffff"/>
<rect x="516.04" y="204.23" width="9.40" height="8.37" fill="#ffffff"/>
<rect x="524.45" y="204.23" width="9.40" height="8.37" fill="#ffffff"/>
<rect x="532.85" y="204.23" width="9.40" height="8.37" fill="#ffffff"/>
<rect x="541.26" y="204.23" width="9.40" height="8.37" fill="#ffffff"/>
<rect x="549.66" y="204.23" width="9.40" height="8.37" fill="#ffffff"/>
<rect x="558.06" y="204.23" width="9.40" height="8.37" fill="#ffffff"/>
<rect x="566.47" y="204.23" width="9.40" height="8.37" fill="#ffffff"/>
<rect x="574.87" y="204.23" width="9.40" height="8.37" fill="#ffffff"/>
<rect x="583.28" y="204.23" width="9.40" height="8.37" fill="#ffffff"/>
<rect x="591.68" y="204.23" width="9.40" height="8.37" fill="#ffffff"/>
<rect x="600.08" y="204.23" width="9.40" height="8.37" fill="#ffffff"/>
<rect x="608.49" y="204.23" width="9.40" height="8.37" fill="#ffffff"/>
<rect x="616.89" y="204.23" width="9.40" height="8.37" fill="#ffffff"/>
<rect x="625.30" y="204.23" width="8.40" height="8.37" fill="#ffffff"/>
</g>
<g stroke="#bbbbbb" stroke-width="0.7" stroke-dasharray="0.7 1.3" fill="none" opacity="0.75">
<path d="M451.61 3.35V212.6" stroke-dasharray="1 0.9"/>
<path d="M423.6 184.70H633.7"/>
<path d="M479.63 3.35V212.6" stroke-dasharray="1 0.9"/>
<path d="M423.6 156.80H633.7"/>
<path d="M507.64 3.35V212.6" stroke-dasharray="1 0.9"/>
<path d="M423.6 128.90H633.7"/>
<path d="M535.65 3.35V212.6" stroke-dasharray="1 0.9"/>
<path d="M423.6 101.00H633.7"/>
<path d="M563.67 3.35V212.6" stroke-dasharray="1 0.9"/>
<path d="M423.6 73.10H633.7"/>
<path d="M591.68 3.35V212.6" stroke-dasharray="1 0.9"/>
<path d="M423.6 45.20H633.7"/>
<path d="M619.69 3.35V212.6" stroke-dasharray="1 0.9"/>
<path d="M423.6 17.30H633.7"/>
</g>
<g stroke="#5a5a5a" stroke-width="0.8" fill="none">
<path d="M423.60 212.6v-2"/>
<path d="M423.6 212.60h2"/>
<path d="M451.61 212.6v-2"/>
<path d="M423.6 184.70h2"/>
<path d="M479.63 212.6v-2"/>
<path d="M423.6 156.80h2"/>
<path d="M507.64 212.6v-2"/>
<path d="M423.6 128.90h2"/>
<path d="M535.65 212.6v-2"/>
<path d="M423.6 101.00h2"/>
<path d="M563.67 212.6v-2"/>
<path d="M423.6 73.10h2"/>
<path d="M591.68 212.6v-2"/>
<path d="M423.6 45.20h2"/>
<path d="M619.69 212.6v-2"/>
<path d="M423.6 17.30h2"/>
</g>
<path d="M423.6 3.35V213.1" stroke="#666" stroke-width="1" fill="none"/>
<path d="M423.1 212.6H633.7" stroke="#666" stroke-width="1" fill="none"/>
<g font-family="'DejaVu Sans','Liberation Sans',sans-serif" font-size="7.5" fill="#383838" stroke="#383838" stroke-width="0.15">
<text x="423.60" y="221" text-anchor="middle">0.00</text>
<text x="421.20" y="215.70" text-anchor="end">0.00</text>
<text x="451.61" y="221" text-anchor="middle">0.02</text>
<text x="421.20" y="187.80" text-anchor="end">0.02</text>
<text x="479.63" y="221" text-anchor="middle">0.04</text>
<text x="421.20" y="159.90" text-anchor="end">0.04</text>
<text x="507.64" y="221" text-anchor="middle">0.06</text>
<text x="421.20" y="132.00" text-anchor="end">0.06</text>
<text x="535.65" y="221" text-anchor="middle">0.08</text>
<text x="421.20" y="104.10" text-anchor="end">0.08</text>
<text x="563.67" y="221" text-anchor="middle">0.10</text>
<text x="421.20" y="76.20" text-anchor="end">0.10</text>
<text x="591.68" y="221" text-anchor="middle">0.12</text>
<text x="421.20" y="48.30" text-anchor="end">0.12</text>
<text x="619.69" y="221" text-anchor="middle">0.14</text>
<text x="421.20" y="20.40" text-anchor="end">0.14</text>
<text x="528.65" y="230.7" text-anchor="middle">X (m)</text>
<text transform="translate(399.5 108.47) rotate(-90)" text-anchor="middle">Y (m)</text>
</g>
<defs><linearGradient id="gb" x1="0" y1="1" x2="0" y2="0">
<stop offset="0.0000" stop-color="#0b0000"/>
<stop offset="0.0156" stop-color="#150000"/>
<stop offset="0.0312" stop-color="#200000"/>
<stop offset="0.0469" stop-color="#2a0000"/>
<stop offset="0.0625" stop-color="#350000"/>
<stop offset="0.0781" stop-color="#3f0000"/>
<stop offset="0.0938" stop-color="#4a0000"/>
<stop offset="0.1094" stop-color="#540000"/>
<stop offset="0.1250" stop-color="#5f0000"/>
<stop offset="0.1406" stop-color="#690000"/>
<stop offset="0.1562" stop-color="#740000"/>
<stop offset="0.1719" stop-color="#7e0000"/>
<stop offset="0.1875" stop-color="#890000"/>
<stop offset="0.2031" stop-color="#930000"/>
<stop offset="0.2188" stop-color="#9e0000"/>
<stop offset="0.2344" stop-color="#a80000"/>
<stop offset="0.2500" stop-color="#b30000"/>
<stop offset="0.2656" stop-color="#bd0000"/>
<stop offset="0.2812" stop-color="#c80000"/>
<stop offset="0.2969" stop-color="#d20000"/>
<stop offset="0.3125" stop-color="#dd0000"/>
<stop offset="0.3281" stop-color="#e70000"/>
<stop offset="0.3438" stop-color="#f20000"/>
<stop offset="0.3594" stop-color="#fc0000"/>
<stop offset="0.3750" stop-color="#ff0800"/>
<stop offset="0.3906" stop-color="#ff1200"/>
<stop offset="0.4062" stop-color="#ff1d00"/>
<stop offset="0.4219" stop-color="#ff2700"/>
<stop offset="0.4375" stop-color="#ff3200"/>
<stop offset="0.4531" stop-color="#ff3c00"/>
<stop offset="0.4688" stop-color="#ff4700"/>
<stop offset="0.4844" stop-color="#ff5100"/>
<stop offset="0.5000" stop-color="#ff5c00"/>
<stop offset="0.5156" stop-color="#ff6600"/>
<stop offset="0.5312" stop-color="#ff7100"/>
<stop offset="0.5469" stop-color="#ff7b00"/>
<stop offset="0.5625" stop-color="#ff8600"/>
<stop offset="0.5781" stop-color="#ff9000"/>
<stop offset="0.5938" stop-color="#ff9b00"/>
<stop offset="0.6094" stop-color="#ffa500"/>
<stop offset="0.6250" stop-color="#ffb000"/>
<stop offset="0.6406" stop-color="#ffba00"/>
<stop offset="0.6562" stop-color="#ffc500"/>
<stop offset="0.6719" stop-color="#ffcf00"/>
<stop offset="0.6875" stop-color="#ffda00"/>
<stop offset="0.7031" stop-color="#ffe400"/>
<stop offset="0.7188" stop-color="#ffef00"/>
<stop offset="0.7344" stop-color="#fff900"/>
<stop offset="0.7500" stop-color="#ffff07"/>
<stop offset="0.7656" stop-color="#ffff17"/>
<stop offset="0.7812" stop-color="#ffff26"/>
<stop offset="0.7969" stop-color="#ffff36"/>
<stop offset="0.8125" stop-color="#ffff46"/>
<stop offset="0.8281" stop-color="#ffff56"/>
<stop offset="0.8438" stop-color="#ffff65"/>
<stop offset="0.8594" stop-color="#ffff75"/>
<stop offset="0.8750" stop-color="#ffff85"/>
<stop offset="0.8906" stop-color="#ffff95"/>
<stop offset="0.9062" stop-color="#ffffa4"/>
<stop offset="0.9219" stop-color="#ffffb4"/>
<stop offset="0.9375" stop-color="#ffffc4"/>
<stop offset="0.9531" stop-color="#ffffd4"/>
<stop offset="0.9688" stop-color="#ffffe3"/>
<stop offset="0.9844" stop-color="#fffff3"/>
<stop offset="1.0000" stop-color="#ffffff"/>
</linearGradient></defs>
<rect x="647.4" y="3.4" width="10.80" height="209.20" fill="url(#gb)" stroke="#666" stroke-width="0.7"/>
<g stroke="#5a5a5a" stroke-width="0.8" fill="none">
<path d="M658.2 181.40h-2"/>
<path d="M658.2 145.75h-2"/>
<path d="M658.2 110.10h-2"/>
<path d="M658.2 74.45h-2"/>
<path d="M658.2 38.80h-2"/>
<path d="M658.2 3.15h-2"/>
</g>
<g font-family="'DejaVu Sans','Liberation Sans',sans-serif" font-size="7.5" fill="#383838" stroke="#383838" stroke-width="0.15">
<text x="660.5" y="184.40">300</text>
<text x="660.5" y="148.75">400</text>
<text x="660.5" y="113.10">500</text>
<text x="660.5" y="77.45">600</text>
<text x="660.5" y="41.80">700</text>
<text x="660.5" y="6.15">800</text>
<text transform="translate(682.5 107.97) rotate(-90)" text-anchor="middle">Temperature (°C)</text>
</g>
<g fill="#555"><rect x="388.4" y="0" width="1" height="1.6"/><rect x="461.8" y="0" width="1" height="1.6"/><rect x="505.8" y="0" width="1" height="1.6"/><rect x="653" y="1.1" width="5" height="0.8"/><rect x="672.5" y="1.1" width="3.5" height="0.8"/></g>
<g>
<rect x="210.00" y="311.50" width="10.08" height="10.07" fill="#b40426"/>
<rect x="219.08" y="311.50" width="10.08" height="10.07" fill="#b40426"/>
<rect x="228.17" y="311.50" width="10.08" height="10.07" fill="#b40426"/>
<rect x="237.25" y="311.50" width="10.08" height="10.07" fill="#b40426"/>
<rect x="246.34" y="311.50" width="10.08" height="10.07" fill="#b40426"/>
<rect x="255.42" y="311.50" width="10.08" height="10.07" fill="#b40426"/>
<rect x="264.50" y="311.50" width="10.08" height="10.07" fill="#b40426"/>
<rect x="273.59" y="311.50" width="10.08" height="10.07" fill="#b40426"/>
<rect x="282.67" y="311.50" width="10.08" height="10.07" fill="#b40426"/>
<rect x="291.76" y="311.50" width="10.08" height="10.07" fill="#b40426"/>
<rect x="300.84" y="311.50" width="10.08" height="10.07" fill="#b40426"/>
<rect x="309.92" y="311.50" width="10.08" height="10.07" fill="#b40426"/>
<rect x="319.01" y="311.50" width="10.08" height="10.07" fill="#b40426"/>
<rect x="328.09" y="311.50" width="10.08" height="10.07" fill="#b40426"/>
<rect x="337.18" y="311.50" width="10.08" height="10.07" fill="#b40426"/>
<rect x="346.26" y="311.50" width="10.08" height="10.07" fill="#b40426"/>
<rect x="355.34" y="311.50" width="10.08" height="10.07" fill="#b40426"/>
<rect x="364.43" y="311.50" width="10.08" height="10.07" fill="#b40426"/>
<rect x="373.51" y="311.50" width="10.08" height="10.07" fill="#b40426"/>
<rect x="382.60" y="311.50" width="10.08" height="10.07" fill="#b40426"/>
<rect x="391.68" y="311.50" width="10.08" height="10.07" fill="#b40426"/>
<rect x="400.76" y="311.50" width="10.08" height="10.07" fill="#b40426"/>
<rect x="409.85" y="311.50" width="10.08" height="10.07" fill="#b40426"/>
<rect x="418.93" y="311.50" width="10.08" height="10.07" fill="#b40426"/>
<rect x="428.02" y="311.50" width="9.08" height="10.07" fill="#b40426"/>
<rect x="210.00" y="320.57" width="10.08" height="10.07" fill="#b40426"/>
<rect x="219.08" y="320.57" width="10.08" height="10.07" fill="#bd1f2d"/>
<rect x="228.17" y="320.57" width="10.08" height="10.07" fill="#c53334"/>
<rect x="237.25" y="320.57" width="10.08" height="10.07" fill="#cc403a"/>
<rect x="246.34" y="320.57" width="10.08" height="10.07" fill="#d24b40"/>
<rect x="255.42" y="320.57" width="10.08" height="10.07" fill="#d75445"/>
<rect x="264.50" y="320.57" width="10.08" height="10.07" fill="#dc5d4a"/>
<rect x="273.59" y="320.57" width="10.08" height="10.07" fill="#df634e"/>
<rect x="282.67" y="320.57" width="10.08" height="10.07" fill="#e26952"/>
<rect x="291.76" y="320.57" width="10.08" height="10.07" fill="#e36c55"/>
<rect x="300.84" y="320.57" width="10.08" height="10.07" fill="#e46e56"/>
<rect x="309.92" y="320.57" width="10.08" height="10.07" fill="#e57058"/>
<rect x="319.01" y="320.57" width="10.08" height="10.07" fill="#e57058"/>
<rect x="328.09" y="320.57" width="10.08" height="10.07" fill="#e57058"/>
<rect x="337.18" y="320.57" width="10.08" height="10.07" fill="#e46e56"/>
<rect x="346.26" y="320.57" width="10.08" height="10.07" fill="#e36c55"/>
<rect x="355.34" y="320.57" width="10.08" height="10.07" fill="#e26952"/>
<rect x="364.43" y="320.57" width="10.08" height="10.07" fill="#df634e"/>
<rect x="373.51" y="320.57" width="10.08" height="10.07" fill="#dc5d4a"/>
<rect x="382.60" y="320.57" width="10.08" height="10.07" fill="#d75445"/>
<rect x="391.68" y="320.57" width="10.08" height="10.07" fill="#d24b40"/>
<rect x="400.76" y="320.57" width="10.08" height="10.07" fill="#cc403a"/>
<rect x="409.85" y="320.57" width="10.08" height="10.07" fill="#c53334"/>
<rect x="418.93" y="320.57" width="10.08" height="10.07" fill="#bd1f2d"/>
<rect x="428.02" y="320.57" width="9.08" height="10.07" fill="#b40426"/>
<rect x="210.00" y="329.64" width="10.08" height="10.07" fill="#b40426"/>
<rect x="219.08" y="329.64" width="10.08" height="10.07" fill="#c53334"/>
<rect x="228.17" y="329.64" width="10.08" height="10.07" fill="#d44e41"/>
<rect x="237.25" y="329.64" width="10.08" height="10.07" fill="#e0654f"/>
<rect x="246.34" y="329.64" width="10.08" height="10.07" fill="#e8765c"/>
<rect x="255.42" y="329.64" width="10.08" height="10.07" fill="#ee8468"/>
<rect x="264.50" y="329.64" width="10.08" height="10.07" fill="#f29072"/>
<rect x="273.59" y="329.64" width="10.08" height="10.07" fill="#f49a7b"/>
<rect x="282.67" y="329.64" width="10.08" height="10.07" fill="#f6a283"/>
<rect x="291.76" y="329.64" width="10.08" height="10.07" fill="#f7a889"/>
<rect x="300.84" y="329.64" width="10.08" height="10.07" fill="#f7ac8e"/>
<rect x="309.92" y="329.64" width="10.08" height="10.07" fill="#f7ad90"/>
<rect x="319.01" y="329.64" width="10.08" height="10.07" fill="#f7af91"/>
<rect x="328.09" y="329.64" width="10.08" height="10.07" fill="#f7ad90"/>
<rect x="337.18" y="329.64" width="10.08" height="10.07" fill="#f7ac8e"/>
<rect x="346.26" y="329.64" width="10.08" height="10.07" fill="#f7a889"/>
<rect x="355.34" y="329.64" width="10.08" height="10.07" fill="#f6a283"/>
<rect x="364.43" y="329.64" width="10.08" height="10.07" fill="#f49a7b"/>
<rect x="373.51" y="329.64" width="10.08" height="10.07" fill="#f29072"/>
<rect x="382.60" y="329.64" width="10.08" height="10.07" fill="#ee8468"/>
<rect x="391.68" y="329.64" width="10.08" height="10.07" fill="#e8765c"/>
<rect x="400.76" y="329.64" width="10.08" height="10.07" fill="#e0654f"/>
<rect x="409.85" y="329.64" width="10.08" height="10.07" fill="#d44e41"/>
<rect x="418.93" y="329.64" width="10.08" height="10.07" fill="#c53334"/>
<rect x="428.02" y="329.64" width="9.08" height="10.07" fill="#b40426"/>
<rect x="210.00" y="338.70" width="10.08" height="10.07" fill="#b40426"/>
<rect x="219.08" y="338.70" width="10.08" height="10.07" fill="#cc403a"/>
<rect x="228.17" y="338.70" width="10.08" height="10.07" fill="#e0654f"/>
<rect x="237.25" y="338.70" width="10.08" height="10.07" fill="#ec7f63"/>
<rect x="246.34" y="338.70" width="10.08" height="10.07" fill="#f39778"/>
<rect x="255.42" y="338.70" width="10.08" height="10.07" fill="#f7a889"/>
<rect x="264.50" y="338.70" width="10.08" height="10.07" fill="#f7b599"/>
<rect x="273.59" y="338.70" width="10.08" height="10.07" fill="#f5c0a7"/>
<rect x="282.67" y="338.70" width="10.08" height="10.07" fill="#f3c8b2"/>
<rect x="291.76" y="338.70" width="10.08" height="10.07" fill="#f1cdba"/>
<rect x="300.84" y="338.70" width="10.08" height="10.07" fill="#eed0c0"/>
<rect x="309.92" y="338.70" width="10.08" height="10.07" fill="#ecd3c5"/>
<rect x="319.01" y="338.70" width="10.08" height="10.07" fill="#ecd3c5"/>
<rect x="328.09" y="338.70" width="10.08" height="10.07" fill="#ecd3c5"/>
<rect x="337.18" y="338.70" width="10.08" height="10.07" fill="#eed0c0"/>
<rect x="346.26" y="338.70" width="10.08" height="10.07" fill="#f1cdba"/>
<rect x="355.34" y="338.70" width="10.08" height="10.07" fill="#f3c8b2"/>
<rect x="364.43" y="338.70" width="10.08" height="10.07" fill="#f5c0a7"/>
<rect x="373.51" y="338.70" width="10.08" height="10.07" fill="#f7b599"/>
<rect x="382.60" y="338.70" width="10.08" height="10.07" fill="#f7a889"/>
<rect x="391.68" y="338.70" width="10.08" height="10.07" fill="#f39778"/>
<rect x="400.76" y="338.70" width="10.08" height="10.07" fill="#ec7f63"/>
<rect x="409.85" y="338.70" width="10.08" height="10.07" fill="#e0654f"/>
<rect x="418.93" y="338.70" width="10.08" height="10.07" fill="#cc403a"/>
<rect x="428.02" y="338.70" width="9.08" height="10.07" fill="#b40426"/>
<rect x="210.00" y="347.77" width="10.08" height="10.07" fill="#b40426"/>
<rect x="219.08" y="347.77" width="10.08" height="10.07" fill="#d24b40"/>
<rect x="228.17" y="347.77" width="10.08" height="10.07" fill="#e8765c"/>
<rect x="237.25" y="347.77" width="10.08" height="10.07" fill="#f39778"/>
<rect x="246.34" y="347.77" width="10.08" height="10.07" fill="#f7b093"/>
<rect x="255.42" y="347.77" width="10.08" height="10.07" fill="#f5c1a9"/>
<rect x="264.50" y="347.77" width="10.08" height="10.07" fill="#efcebd"/>
<rect x="273.59" y="347.77" width="10.08" height="10.07" fill="#e7d7ce"/>
<rect x="282.67" y="347.77" width="10.08" height="10.07" fill="#dedcdb"/>
<rect x="291.76" y="347.77" width="10.08" height="10.07" fill="#d7dce3"/>
<rect x="300.84" y="347.77" width="10.08" height="10.07" fill="#d2dbe8"/>
<rect x="309.92" y="347.77" width="10.08" height="10.07" fill="#cedaeb"/>
<rect x="319.01" y="347.77" width="10.08" height="10.07" fill="#cdd9ec"/>
<rect x="328.09" y="347.77" width="10.08" height="10.07" fill="#cedaeb"/>
<rect x="337.18" y="347.77" width="10.08" height="10.07" fill="#d2dbe8"/>
<rect x="346.26" y="347.77" width="10.08" height="10.07" fill="#d7dce3"/>
<rect x="355.34" y="347.77" width="10.08" height="10.07" fill="#dedcdb"/>
<rect x="364.43" y="347.77" width="10.08" height="10.07" fill="#e7d7ce"/>
<rect x="373.51" y="347.77" width="10.08" height="10.07" fill="#efcebd"/>
<rect x="382.60" y="347.77" width="10.08" height="10.07" fill="#f5c1a9"/>
<rect x="391.68" y="347.77" width="10.08" height="10.07" fill="#f7b093"/>
<rect x="400.76" y="347.77" width="10.08" height="10.07" fill="#f39778"/>
<rect x="409.85" y="347.77" width="10.08" height="10.07" fill="#e8765c"/>
<rect x="418.93" y="347.77" width="10.08" height="10.07" fill="#d24b40"/>
<rect x="428.02" y="347.77" width="9.08" height="10.07" fill="#b40426"/>
<rect x="210.00" y="356.84" width="10.08" height="10.07" fill="#b40426"/>
<rect x="219.08" y="356.84" width="10.08" height="10.07" fill="#d75445"/>
<rect x="228.17" y="356.84" width="10.08" height="10.07" fill="#ee8468"/>
<rect x="237.25" y="356.84" width="10.08" height="10.07" fill="#f7a889"/>
<rect x="246.34" y="356.84" width="10.08" height="10.07" fill="#f5c1a9"/>
<rect x="255.42" y="356.84" width="10.08" height="10.07" fill="#ecd3c5"/>
<rect x="264.50" y="356.84" width="10.08" height="10.07" fill="#dedcdb"/>
<rect x="273.59" y="356.84" width="10.08" height="10.07" fill="#d1dae9"/>
<rect x="282.67" y="356.84" width="10.08" height="10.07" fill="#c4d5f3"/>
<rect x="291.76" y="356.84" width="10.08" height="10.07" fill="#bad0f8"/>
<rect x="300.84" y="356.84" width="10.08" height="10.07" fill="#b2ccfb"/>
<rect x="309.92" y="356.84" width="10.08" height="10.07" fill="#aec9fc"/>
<rect x="319.01" y="356.84" width="10.08" height="10.07" fill="#adc9fd"/>
<rect x="328.09" y="356.84" width="10.08" height="10.07" fill="#aec9fc"/>
<rect x="337.18" y="356.84" width="10.08" height="10.07" fill="#b2ccfb"/>
<rect x="346.26" y="356.84" width="10.08" height="10.07" fill="#bad0f8"/>
<rect x="355.34" y="356.84" width="10.08" height="10.07" fill="#c4d5f3"/>
<rect x="364.43" y="356.84" width="10.08" height="10.07" fill="#d1dae9"/>
<rect x="373.51" y="356.84" width="10.08" height="10.07" fill="#dedcdb"/>
<rect x="382.60" y="356.84" width="10.08" height="10.07" fill="#ecd3c5"/>
<rect x="391.68" y="356.84" width="10.08" height="10.07" fill="#f5c1a9"/>
<rect x="400.76" y="356.84" width="10.08" height="10.07" fill="#f7a889"/>
<rect x="409.85" y="356.84" width="10.08" height="10.07" fill="#ee8468"/>
<rect x="418.93" y="356.84" width="10.08" height="10.07" fill="#d75445"/>
<rect x="428.02" y="356.84" width="9.08" height="10.07" fill="#b40426"/>
<rect x="210.00" y="365.91" width="10.08" height="10.07" fill="#b40426"/>
<rect x="219.08" y="365.91" width="10.08" height="10.07" fill="#dc5d4a"/>
<rect x="228.17" y="365.91" width="10.08" height="10.07" fill="#f29072"/>
<rect x="237.25" y="365.91" width="10.08" height="10.07" fill="#f7b599"/>
<rect x="246.34" y="365.91" width="10.08" height="10.07" fill="#efcebd"/>
<rect x="255.42" y="365.91" width="10.08" height="10.07" fill="#dedcdb"/>
<rect x="264.50" y="365.91" width="10.08" height="10.07" fill="#ccd9ed"/>
<rect x="273.59" y="365.91" width="10.08" height="10.07" fill="#bad0f8"/>
<rect x="282.67" y="365.91" width="10.08" height="10.07" fill="#aac7fd"/>
<rect x="291.76" y="365.91" width="10.08" height="10.07" fill="#9ebeff"/>
<rect x="300.84" y="365.91" width="10.08" height="10.07" fill="#94b6ff"/>
<rect x="309.92" y="365.91" width="10.08" height="10.07" fill="#8fb1fe"/>
<rect x="319.01" y="365.91" width="10.08" height="10.07" fill="#8db0fe"/>
<rect x="328.09" y="365.91" width="10.08" height="10.07" fill="#8fb1fe"/>
<rect x="337.18" y="365.91" width="10.08" height="10.07" fill="#94b6ff"/>
<rect x="346.26" y="365.91" width="10.08" height="10.07" fill="#9ebeff"/>
<rect x="355.34" y="365.91" width="10.08" height="10.07" fill="#aac7fd"/>
<rect x="364.43" y="365.91" width="10.08" height="10.07" fill="#bad0f8"/>
<rect x="373.51" y="365.91" width="10.08" height="10.07" fill="#ccd9ed"/>
<rect x="382.60" y="365.91" width="10.08" height="10.07" fill="#dedcdb"/>
<rect x="391.68" y="365.91" width="10.08" height="10.07" fill="#efcebd"/>
<rect x="400.76" y="365.91" width="10.08" height="10.07" fill="#f7b599"/>
<rect x="409.85" y="365.91" width="10.08" height="10.07" fill="#f29072"/>
<rect x="418.93" y="365.91" width="10.08" height="10.07" fill="#dc5d4a"/>
<rect x="428.02" y="365.91" width="9.08" height="10.07" fill="#b40426"/>
<rect x="210.00" y="374.98" width="10.08" height="10.07" fill="#b40426"/>
<rect x="219.08" y="374.98" width="10.08" height="10.07" fill="#df634e"/>
<rect x="228.17" y="374.98" width="10.08" height="10.07" fill="#f49a7b"/>
<rect x="237.25" y="374.98" width="10.08" height="10.07" fill="#f5c0a7"/>
<rect x="246.34" y="374.98" width="10.08" height="10.07" fill="#e7d7ce"/>
<rect x="255.42" y="374.98" width="10.08" height="10.07" fill="#d1dae9"/>
<rect x="264.50" y="374.98" width="10.08" height="10.07" fill="#bad0f8"/>
<rect x="273.59" y="374.98" width="10.08" height="10.07" fill="#a5c3fe"/>
<rect x="282.67" y="374.98" width="10.08" height="10.07" fill="#92b4fe"/>
<rect x="291.76" y="374.98" width="10.08" height="10.07" fill="#84a7fc"/>
<rect x="300.84" y="374.98" width="10.08" height="10.07" fill="#7a9df8"/>
<rect x="309.92" y="374.98" width="10.08" height="10.07" fill="#7396f5"/>
<rect x="319.01" y="374.98" width="10.08" height="10.07" fill="#7295f4"/>
<rect x="328.09" y="374.98" width="10.08" height="10.07" fill="#7396f5"/>
<rect x="337.18" y="374.98" width="10.08" height="10.07" fill="#7a9df8"/>
<rect x="346.26" y="374.98" width="10.08" height="10.07" fill="#84a7fc"/>
<rect x="355.34" y="374.98" width="10.08" height="10.07" fill="#92b4fe"/>
<rect x="364.43" y="374.98" width="10.08" height="10.07" fill="#a5c3fe"/>
<rect x="373.51" y="374.98" width="10.08" height="10.07" fill="#bad0f8"/>
<rect x="382.60" y="374.98" width="10.08" height="10.07" fill="#d1dae9"/>
<rect x="391.68" y="374.98" width="10.08" height="10.07" fill="#e7d7ce"/>
<rect x="400.76" y="374.98" width="10.08" height="10.07" fill="#f5c0a7"/>
<rect x="409.85" y="374.98" width="10.08" height="10.07" fill="#f49a7b"/>
<rect x="418.93" y="374.98" width="10.08" height="10.07" fill="#df634e"/>
<rect x="428.02" y="374.98" width="9.08" height="10.07" fill="#b40426"/>
<rect x="210.00" y="384.04" width="10.08" height="10.07" fill="#b40426"/>
<rect x="219.08" y="384.04" width="10.08" height="10.07" fill="#e26952"/>
<rect x="228.17" y="384.04" width="10.08" height="10.07" fill="#f6a283"/>
<rect x="237.25" y="384.04" width="10.08" height="10.07" fill="#f3c8b2"/>
<rect x="246.34" y="384.04" width="10.08" height="10.07" fill="#dedcdb"/>
<rect x="255.42" y="384.04" width="10.08" height="10.07" fill="#c4d5f3"/>
<rect x="264.50" y="384.04" width="10.08" height="10.07" fill="#aac7fd"/>
<rect x="273.59" y="384.04" width="10.08" height="10.07" fill="#92b4fe"/>
<rect x="282.67" y="384.04" width="10.08" height="10.07" fill="#7ea1fa"/>
<rect x="291.76" y="384.04" width="10.08" height="10.07" fill="#6f92f3"/>
<rect x="300.84" y="384.04" width="10.08" height="10.07" fill="#6485ec"/>
<rect x="309.92" y="384.04" width="10.08" height="10.07" fill="#5f7fe8"/>
<rect x="319.01" y="384.04" width="10.08" height="10.07" fill="#5d7ce6"/>
<rect x="328.09" y="384.04" width="10.08" height="10.07" fill="#5f7fe8"/>
<rect x="337.18" y="384.04" width="10.08" height="10.07" fill="#6485ec"/>
<rect x="346.26" y="384.04" width="10.08" height="10.07" fill="#6f92f3"/>
<rect x="355.34" y="384.04" width="10.08" height="10.07" fill="#7ea1fa"/>
<rect x="364.43" y="384.04" width="10.08" height="10.07" fill="#92b4fe"/>
<rect x="373.51" y="384.04" width="10.08" height="10.07" fill="#aac7fd"/>
<rect x="382.60" y="384.04" width="10.08" height="10.07" fill="#c4d5f3"/>
<rect x="391.68" y="384.04" width="10.08" height="10.07" fill="#dedcdb"/>
<rect x="400.76" y="384.04" width="10.08" height="10.07" fill="#f3c8b2"/>
<rect x="409.85" y="384.04" width="10.08" height="10.07" fill="#f6a283"/>
<rect x="418.93" y="384.04" width="10.08" height="10.07" fill="#e26952"/>
<rect x="428.02" y="384.04" width="9.08" height="10.07" fill="#b40426"/>
<rect x="210.00" y="393.11" width="10.08" height="10.07" fill="#b40426"/>
<rect x="219.08" y="393.11" width="10.08" height="10.07" fill="#e36c55"/>
<rect x="228.17" y="393.11" width="10.08" height="10.07" fill="#f7a889"/>
<rect x="237.25" y="393.11" width="10.08" height="10.07" fill="#f1cdba"/>
<rect x="246.34" y="393.11" width="10.08" height="10.07" fill="#d7dce3"/>
<rect x="255.42" y="393.11" width="10.08" height="10.07" fill="#bad0f8"/>
<rect x="264.50" y="393.11" width="10.08" height="10.07" fill="#9ebeff"/>
<rect x="273.59" y="393.11" width="10.08" height="10.07" fill="#84a7fc"/>
<rect x="282.67" y="393.11" width="10.08" height="10.07" fill="#6f92f3"/>
<rect x="291.76" y="393.11" width="10.08" height="10.07" fill="#6180e9"/>
<rect x="300.84" y="393.11" width="10.08" height="10.07" fill="#5572df"/>
<rect x="309.92" y="393.11" width="10.08" height="10.07" fill="#4f69d9"/>
<rect x="319.01" y="393.11" width="10.08" height="10.07" fill="#4e68d8"/>
<rect x="328.09" y="393.11" width="10.08" height="10.07" fill="#4f69d9"/>
<rect x="337.18" y="393.11" width="10.08" height="10.07" fill="#5572df"/>
<rect x="346.26" y="393.11" width="10.08" height="10.07" fill="#6180e9"/>
<rect x="355.34" y="393.11" width="10.08" height="10.07" fill="#6f92f3"/>
<rect x="364.43" y="393.11" width="10.08" height="10.07" fill="#84a7fc"/>
<rect x="373.51" y="393.11" width="10.08" height="10.07" fill="#9ebeff"/>
<rect x="382.60" y="393.11" width="10.08" height="10.07" fill="#bad0f8"/>
<rect x="391.68" y="393.11" width="10.08" height="10.07" fill="#d7dce3"/>
<rect x="400.76" y="393.11" width="10.08" height="10.07" fill="#f1cdba"/>
<rect x="409.85" y="393.11" width="10.08" height="10.07" fill="#f7a889"/>
<rect x="418.93" y="393.11" width="10.08" height="10.07" fill="#e36c55"/>
<rect x="428.02" y="393.11" width="9.08" height="10.07" fill="#b40426"/>
<rect x="210.00" y="402.18" width="10.08" height="10.07" fill="#b40426"/>
<rect x="219.08" y="402.18" width="10.08" height="10.07" fill="#e46e56"/>
<rect x="228.17" y="402.18" width="10.08" height="10.07" fill="#f7ac8e"/>
<rect x="237.25" y="402.18" width="10.08" height="10.07" fill="#eed0c0"/>
<rect x="246.34" y="402.18" width="10.08" height="10.07" fill="#d2dbe8"/>
<rect x="255.42" y="402.18" width="10.08" height="10.07" fill="#b2ccfb"/>
<rect x="264.50" y="402.18" width="10.08" height="10.07" fill="#94b6ff"/>
<rect x="273.59" y="402.18" width="10.08" height="10.07" fill="#7a9df8"/>
<rect x="282.67" y="402.18" width="10.08" height="10.07" fill="#6485ec"/>
<rect x="291.76" y="402.18" width="10.08" height="10.07" fill="#5572df"/>
<rect x="300.84" y="402.18" width="10.08" height="10.07" fill="#4b64d5"/>
<rect x="309.92" y="402.18" width="10.08" height="10.07" fill="#445acc"/>
<rect x="319.01" y="402.18" width="10.08" height="10.07" fill="#4358cb"/>
<rect x="328.09" y="402.18" width="10.08" height="10.07" fill="#445acc"/>
<rect x="337.18" y="402.18" width="10.08" height="10.07" fill="#4b64d5"/>
<rect x="346.26" y="402.18" width="10.08" height="10.07" fill="#5572df"/>
<rect x="355.34" y="402.18" width="10.08" height="10.07" fill="#6485ec"/>
<rect x="364.43" y="402.18" width="10.08" height="10.07" fill="#7a9df8"/>
<rect x="373.51" y="402.18" width="10.08" height="10.07" fill="#94b6ff"/>
<rect x="382.60" y="402.18" width="10.08" height="10.07" fill="#b2ccfb"/>
<rect x="391.68" y="402.18" width="10.08" height="10.07" fill="#d2dbe8"/>
<rect x="400.76" y="402.18" width="10.08" height="10.07" fill="#eed0c0"/>
<rect x="409.85" y="402.18" width="10.08" height="10.07" fill="#f7ac8e"/>
<rect x="418.93" y="402.18" width="10.08" height="10.07" fill="#e46e56"/>
<rect x="428.02" y="402.18" width="9.08" height="10.07" fill="#b40426"/>
<rect x="210.00" y="411.25" width="10.08" height="10.07" fill="#b40426"/>
<rect x="219.08" y="411.25" width="10.08" height="10.07" fill="#e57058"/>
<rect x="228.17" y="411.25" width="10.08" height="10.07" fill="#f7ad90"/>
<rect x="237.25" y="411.25" width="10.08" height="10.07" fill="#ecd3c5"/>
<rect x="246.34" y="411.25" width="10.08" height="10.07" fill="#cedaeb"/>
<rect x="255.42" y="411.25" width="10.08" height="10.07" fill="#aec9fc"/>
<rect x="264.50" y="411.25" width="10.08" height="10.07" fill="#8fb1fe"/>
<rect x="273.59" y="411.25" width="10.08" height="10.07" fill="#7396f5"/>
<rect x="282.67" y="411.25" width="10.08" height="10.07" fill="#5f7fe8"/>
<rect x="291.76" y="411.25" width="10.08" height="10.07" fill="#4f69d9"/>
<rect x="300.84" y="411.25" width="10.08" height="10.07" fill="#445acc"/>
<rect x="309.92" y="411.25" width="10.08" height="10.07" fill="#3e51c5"/>
<rect x="319.01" y="411.25" width="10.08" height="10.07" fill="#3c4ec2"/>
<rect x="328.09" y="411.25" width="10.08" height="10.07" fill="#3e51c5"/>
<rect x="337.18" y="411.25" width="10.08" height="10.07" fill="#445acc"/>
<rect x="346.26" y="411.25" width="10.08" height="10.07" fill="#4f69d9"/>
<rect x="355.34" y="411.25" width="10.08" height="10.07" fill="#5f7fe8"/>
<rect x="364.43" y="411.25" width="10.08" height="10.07" fill="#7396f5"/>
<rect x="373.51" y="411.25" width="10.08" height="10.07" fill="#8fb1fe"/>
<rect x="382.60" y="411.25" width="10.08" height="10.07" fill="#aec9fc"/>
<rect x="391.68" y="411.25" width="10.08" height="10.07" fill="#cedaeb"/>
<rect x="400.76" y="411.25" width="10.08" height="10.07" fill="#ecd3c5"/>
<rect x="409.85" y="411.25" width="10.08" height="10.07" fill="#f7ad90"/>
<rect x="418.93" y="411.25" width="10.08" height="10.07" fill="#e57058"/>
<rect x="428.02" y="411.25" width="9.08" height="10.07" fill="#b40426"/>
<rect x="210.00" y="420.32" width="10.08" height="10.07" fill="#b40426"/>
<rect x="219.08" y="420.32" width="10.08" height="10.07" fill="#e57058"/>
<rect x="228.17" y="420.32" width="10.08" height="10.07" fill="#f7af91"/>
<rect x="237.25" y="420.32" width="10.08" height="10.07" fill="#ecd3c5"/>
<rect x="246.34" y="420.32" width="10.08" height="10.07" fill="#cdd9ec"/>
<rect x="255.42" y="420.32" width="10.08" height="10.07" fill="#adc9fd"/>
<rect x="264.50" y="420.32" width="10.08" height="10.07" fill="#8db0fe"/>
<rect x="273.59" y="420.32" width="10.08" height="10.07" fill="#7295f4"/>
<rect x="282.67" y="420.32" width="10.08" height="10.07" fill="#5d7ce6"/>
<rect x="291.76" y="420.32" width="10.08" height="10.07" fill="#4e68d8"/>
<rect x="300.84" y="420.32" width="10.08" height="10.07" fill="#4358cb"/>
<rect x="309.92" y="420.32" width="10.08" height="10.07" fill="#3c4ec2"/>
<rect x="319.01" y="420.32" width="10.08" height="10.07" fill="#3b4cc0"/>
<rect x="328.09" y="420.32" width="10.08" height="10.07" fill="#3c4ec2"/>
<rect x="337.18" y="420.32" width="10.08" height="10.07" fill="#4358cb"/>
<rect x="346.26" y="420.32" width="10.08" height="10.07" fill="#4e68d8"/>
<rect x="355.34" y="420.32" width="10.08" height="10.07" fill="#5d7ce6"/>
<rect x="364.43" y="420.32" width="10.08" height="10.07" fill="#7295f4"/>
<rect x="373.51" y="420.32" width="10.08" height="10.07" fill="#8db0fe"/>
<rect x="382.60" y="420.32" width="10.08" height="10.07" fill="#adc9fd"/>
<rect x="391.68" y="420.32" width="10.08" height="10.07" fill="#cdd9ec"/>
<rect x="400.76" y="420.32" width="10.08" height="10.07" fill="#ecd3c5"/>
<rect x="409.85" y="420.32" width="10.08" height="10.07" fill="#f7af91"/>
<rect x="418.93" y="420.32" width="10.08" height="10.07" fill="#e57058"/>
<rect x="428.02" y="420.32" width="9.08" height="10.07" fill="#b40426"/>
<rect x="210.00" y="429.38" width="10.08" height="10.07" fill="#b40426"/>
<rect x="219.08" y="429.38" width="10.08" height="10.07" fill="#e57058"/>
<rect x="228.17" y="429.38" width="10.08" height="10.07" fill="#f7ad90"/>
<rect x="237.25" y="429.38" width="10.08" height="10.07" fill="#ecd3c5"/>
<rect x="246.34" y="429.38" width="10.08" height="10.07" fill="#cedaeb"/>
<rect x="255.42" y="429.38" width="10.08" height="10.07" fill="#aec9fc"/>
<rect x="264.50" y="429.38" width="10.08" height="10.07" fill="#8fb1fe"/>
<rect x="273.59" y="429.38" width="10.08" height="10.07" fill="#7396f5"/>
<rect x="282.67" y="429.38" width="10.08" height="10.07" fill="#5f7fe8"/>
<rect x="291.76" y="429.38" width="10.08" height="10.07" fill="#4f69d9"/>
<rect x="300.84" y="429.38" width="10.08" height="10.07" fill="#445acc"/>
<rect x="309.92" y="429.38" width="10.08" height="10.07" fill="#3e51c5"/>
<rect x="319.01" y="429.38" width="10.08" height="10.07" fill="#3c4ec2"/>
<rect x="328.09" y="429.38" width="10.08" height="10.07" fill="#3e51c5"/>
<rect x="337.18" y="429.38" width="10.08" height="10.07" fill="#445acc"/>
<rect x="346.26" y="429.38" width="10.08" height="10.07" fill="#4f69d9"/>
<rect x="355.34" y="429.38" width="10.08" height="10.07" fill="#5f7fe8"/>
<rect x="364.43" y="429.38" width="10.08" height="10.07" fill="#7396f5"/>
<rect x="373.51" y="429.38" width="10.08" height="10.07" fill="#8fb1fe"/>
<rect x="382.60" y="429.38" width="10.08" height="10.07" fill="#aec9fc"/>
<rect x="391.68" y="429.38" width="10.08" height="10.07" fill="#cedaeb"/>
<rect x="400.76" y="429.38" width="10.08" height="10.07" fill="#ecd3c5"/>
<rect x="409.85" y="429.38" width="10.08" height="10.07" fill="#f7ad90"/>
<rect x="418.93" y="429.38" width="10.08" height="10.07" fill="#e57058"/>
<rect x="428.02" y="429.38" width="9.08" height="10.07" fill="#b40426"/>
<rect x="210.00" y="438.45" width="10.08" height="10.07" fill="#b40426"/>
<rect x="219.08" y="438.45" width="10.08" height="10.07" fill="#e46e56"/>
<rect x="228.17" y="438.45" width="10.08" height="10.07" fill="#f7ac8e"/>
<rect x="237.25" y="438.45" width="10.08" height="10.07" fill="#eed0c0"/>
<rect x="246.34" y="438.45" width="10.08" height="10.07" fill="#d2dbe8"/>
<rect x="255.42" y="438.45" width="10.08" height="10.07" fill="#b2ccfb"/>
<rect x="264.50" y="438.45" width="10.08" height="10.07" fill="#94b6ff"/>
<rect x="273.59" y="438.45" width="10.08" height="10.07" fill="#7a9df8"/>
<rect x="282.67" y="438.45" width="10.08" height="10.07" fill="#6485ec"/>
<rect x="291.76" y="438.45" width="10.08" height="10.07" fill="#5572df"/>
<rect x="300.84" y="438.45" width="10.08" height="10.07" fill="#4b64d5"/>
<rect x="309.92" y="438.45" width="10.08" height="10.07" fill="#445acc"/>
<rect x="319.01" y="438.45" width="10.08" height="10.07" fill="#4358cb"/>
<rect x="328.09" y="438.45" width="10.08" height="10.07" fill="#445acc"/>
<rect x="337.18" y="438.45" width="10.08" height="10.07" fill="#4b64d5"/>
<rect x="346.26" y="438.45" width="10.08" height="10.07" fill="#5572df"/>
<rect x="355.34" y="438.45" width="10.08" height="10.07" fill="#6485ec"/>
<rect x="364.43" y="438.45" width="10.08" height="10.07" fill="#7a9df8"/>
<rect x="373.51" y="438.45" width="10.08" height="10.07" fill="#94b6ff"/>
<rect x="382.60" y="438.45" width="10.08" height="10.07" fill="#b2ccfb"/>
<rect x="391.68" y="438.45" width="10.08" height="10.07" fill="#d2dbe8"/>
<rect x="400.76" y="438.45" width="10.08" height="10.07" fill="#eed0c0"/>
<rect x="409.85" y="438.45" width="10.08" height="10.07" fill="#f7ac8e"/>
<rect x="418.93" y="438.45" width="10.08" height="10.07" fill="#e46e56"/>
<rect x="428.02" y="438.45" width="9.08" height="10.07" fill="#b40426"/>
<rect x="210.00" y="447.52" width="10.08" height="10.07" fill="#b40426"/>
<rect x="219.08" y="447.52" width="10.08" height="10.07" fill="#e36c55"/>
<rect x="228.17" y="447.52" width="10.08" height="10.07" fill="#f7a889"/>
<rect x="237.25" y="447.52" width="10.08" height="10.07" fill="#f1cdba"/>
<rect x="246.34" y="447.52" width="10.08" height="10.07" fill="#d7dce3"/>
<rect x="255.42" y="447.52" width="10.08" height="10.07" fill="#bad0f8"/>
<rect x="264.50" y="447.52" width="10.08" height="10.07" fill="#9ebeff"/>
<rect x="273.59" y="447.52" width="10.08" height="10.07" fill="#84a7fc"/>
<rect x="282.67" y="447.52" width="10.08" height="10.07" fill="#6f92f3"/>
<rect x="291.76" y="447.52" width="10.08" height="10.07" fill="#6180e9"/>
<rect x="300.84" y="447.52" width="10.08" height="10.07" fill="#5572df"/>
<rect x="309.92" y="447.52" width="10.08" height="10.07" fill="#4f69d9"/>
<rect x="319.01" y="447.52" width="10.08" height="10.07" fill="#4e68d8"/>
<rect x="328.09" y="447.52" width="10.08" height="10.07" fill="#4f69d9"/>
<rect x="337.18" y="447.52" width="10.08" height="10.07" fill="#5572df"/>
<rect x="346.26" y="447.52" width="10.08" height="10.07" fill="#6180e9"/>
<rect x="355.34" y="447.52" width="10.08" height="10.07" fill="#6f92f3"/>
<rect x="364.43" y="447.52" width="10.08" height="10.07" fill="#84a7fc"/>
<rect x="373.51" y="447.52" width="10.08" height="10.07" fill="#9ebeff"/>
<rect x="382.60" y="447.52" width="10.08" height="10.07" fill="#bad0f8"/>
<rect x="391.68" y="447.52" width="10.08" height="10.07" fill="#d7dce3"/>
<rect x="400.76" y="447.52" width="10.08" height="10.07" fill="#f1cdba"/>
<rect x="409.85" y="447.52" width="10.08" height="10.07" fill="#f7a889"/>
<rect x="418.93" y="447.52" width="10.08" height="10.07" fill="#e36c55"/>
<rect x="428.02" y="447.52" width="9.08" height="10.07" fill="#b40426"/>
<rect x="210.00" y="456.59" width="10.08" height="10.07" fill="#b40426"/>
<rect x="219.08" y="456.59" width="10.08" height="10.07" fill="#e26952"/>
<rect x="228.17" y="456.59" width="10.08" height="10.07" fill="#f6a283"/>
<rect x="237.25" y="456.59" width="10.08" height="10.07" fill="#f3c8b2"/>
<rect x="246.34" y="456.59" width="10.08" height="10.07" fill="#dedcdb"/>
<rect x="255.42" y="456.59" width="10.08" height="10.07" fill="#c4d5f3"/>
<rect x="264.50" y="456.59" width="10.08" height="10.07" fill="#aac7fd"/>
<rect x="273.59" y="456.59" width="10.08" height="10.07" fill="#92b4fe"/>
<rect x="282.67" y="456.59" width="10.08" height="10.07" fill="#7ea1fa"/>
<rect x="291.76" y="456.59" width="10.08" height="10.07" fill="#6f92f3"/>
<rect x="300.84" y="456.59" width="10.08" height="10.07" fill="#6485ec"/>
<rect x="309.92" y="456.59" width="10.08" height="10.07" fill="#5f7fe8"/>
<rect x="319.01" y="456.59" width="10.08" height="10.07" fill="#5d7ce6"/>
<rect x="328.09" y="456.59" width="10.08" height="10.07" fill="#5f7fe8"/>
<rect x="337.18" y="456.59" width="10.08" height="10.07" fill="#6485ec"/>
<rect x="346.26" y="456.59" width="10.08" height="10.07" fill="#6f92f3"/>
<rect x="355.34" y="456.59" width="10.08" height="10.07" fill="#7ea1fa"/>
<rect x="364.43" y="456.59" width="10.08" height="10.07" fill="#92b4fe"/>
<rect x="373.51" y="456.59" width="10.08" height="10.07" fill="#aac7fd"/>
<rect x="382.60" y="456.59" width="10.08" height="10.07" fill="#c4d5f3"/>
<rect x="391.68" y="456.59" width="10.08" height="10.07" fill="#dedcdb"/>
<rect x="400.76" y="456.59" width="10.08" height="10.07" fill="#f3c8b2"/>
<rect x="409.85" y="456.59" width="10.08" height="10.07" fill="#f6a283"/>
<rect x="418.93" y="456.59" width="10.08" height="10.07" fill="#e26952"/>
<rect x="428.02" y="456.59" width="9.08" height="10.07" fill="#b40426"/>
<rect x="210.00" y="465.66" width="10.08" height="10.07" fill="#b40426"/>
<rect x="219.08" y="465.66" width="10.08" height="10.07" fill="#df634e"/>
<rect x="228.17" y="465.66" width="10.08" height="10.07" fill="#f49a7b"/>
<rect x="237.25" y="465.66" width="10.08" height="10.07" fill="#f5c0a7"/>
<rect x="246.34" y="465.66" width="10.08" height="10.07" fill="#e7d7ce"/>
<rect x="255.42" y="465.66" width="10.08" height="10.07" fill="#d1dae9"/>
<rect x="264.50" y="465.66" width="10.08" height="10.07" fill="#bad0f8"/>
<rect x="273.59" y="465.66" width="10.08" height="10.07" fill="#a5c3fe"/>
<rect x="282.67" y="465.66" width="10.08" height="10.07" fill="#92b4fe"/>
<rect x="291.76" y="465.66" width="10.08" height="10.07" fill="#84a7fc"/>
<rect x="300.84" y="465.66" width="10.08" height="10.07" fill="#7a9df8"/>
<rect x="309.92" y="465.66" width="10.08" height="10.07" fill="#7396f5"/>
<rect x="319.01" y="465.66" width="10.08" height="10.07" fill="#7295f4"/>
<rect x="328.09" y="465.66" width="10.08" height="10.07" fill="#7396f5"/>
<rect x="337.18" y="465.66" width="10.08" height="10.07" fill="#7a9df8"/>
<rect x="346.26" y="465.66" width="10.08" height="10.07" fill="#84a7fc"/>
<rect x="355.34" y="465.66" width="10.08" height="10.07" fill="#92b4fe"/>
<rect x="364.43" y="465.66" width="10.08" height="10.07" fill="#a5c3fe"/>
<rect x="373.51" y="465.66" width="10.08" height="10.07" fill="#bad0f8"/>
<rect x="382.60" y="465.66" width="10.08" height="10.07" fill="#d1dae9"/>
<rect x="391.68" y="465.66" width="10.08" height="10.07" fill="#e7d7ce"/>
<rect x="400.76" y="465.66" width="10.08" height="10.07" fill="#f5c0a7"/>
<rect x="409.85" y="465.66" width="10.08" height="10.07" fill="#f49a7b"/>
<rect x="418.93" y="465.66" width="10.08" height="10.07" fill="#df634e"/>
<rect x="428.02" y="465.66" width="9.08" height="10.07" fill="#b40426"/>
<rect x="210.00" y="474.72" width="10.08" height="10.07" fill="#b40426"/>
<rect x="219.08" y="474.72" width="10.08" height="10.07" fill="#dc5d4a"/>
<rect x="228.17" y="474.72" width="10.08" height="10.07" fill="#f29072"/>
<rect x="237.25" y="474.72" width="10.08" height="10.07" fill="#f7b599"/>
<rect x="246.34" y="474.72" width="10.08" height="10.07" fill="#efcebd"/>
<rect x="255.42" y="474.72" width="10.08" height="10.07" fill="#dedcdb"/>
<rect x="264.50" y="474.72" width="10.08" height="10.07" fill="#ccd9ed"/>
<rect x="273.59" y="474.72" width="10.08" height="10.07" fill="#bad0f8"/>
<rect x="282.67" y="474.72" width="10.08" height="10.07" fill="#aac7fd"/>
<rect x="291.76" y="474.72" width="10.08" height="10.07" fill="#9ebeff"/>
<rect x="300.84" y="474.72" width="10.08" height="10.07" fill="#94b6ff"/>
<rect x="309.92" y="474.72" width="10.08" height="10.07" fill="#8fb1fe"/>
<rect x="319.01" y="474.72" width="10.08" height="10.07" fill="#8db0fe"/>
<rect x="328.09" y="474.72" width="10.08" height="10.07" fill="#8fb1fe"/>
<rect x="337.18" y="474.72" width="10.08" height="10.07" fill="#94b6ff"/>
<rect x="346.26" y="474.72" width="10.08" height="10.07" fill="#9ebeff"/>
<rect x="355.34" y="474.72" width="10.08" height="10.07" fill="#aac7fd"/>
<rect x="364.43" y="474.72" width="10.08" height="10.07" fill="#bad0f8"/>
<rect x="373.51" y="474.72" width="10.08" height="10.07" fill="#ccd9ed"/>
<rect x="382.60" y="474.72" width="10.08" height="10.07" fill="#dedcdb"/>
<rect x="391.68" y="474.72" width="10.08" height="10.07" fill="#efcebd"/>
<rect x="400.76" y="474.72" width="10.08" height="10.07" fill="#f7b599"/>
<rect x="409.85" y="474.72" width="10.08" height="10.07" fill="#f29072"/>
<rect x="418.93" y="474.72" width="10.08" height="10.07" fill="#dc5d4a"/>
<rect x="428.02" y="474.72" width="9.08" height="10.07" fill="#b40426"/>
<rect x="210.00" y="483.79" width="10.08" height="10.07" fill="#b40426"/>
<rect x="219.08" y="483.79" width="10.08" height="10.07" fill="#d75445"/>
<rect x="228.17" y="483.79" width="10.08" height="10.07" fill="#ee8468"/>
<rect x="237.25" y="483.79" width="10.08" height="10.07" fill="#f7a889"/>
<rect x="246.34" y="483.79" width="10.08" height="10.07" fill="#f5c1a9"/>
<rect x="255.42" y="483.79" width="10.08" height="10.07" fill="#ecd3c5"/>
<rect x="264.50" y="483.79" width="10.08" height="10.07" fill="#dedcdb"/>
<rect x="273.59" y="483.79" width="10.08" height="10.07" fill="#d1dae9"/>
<rect x="282.67" y="483.79" width="10.08" height="10.07" fill="#c4d5f3"/>
<rect x="291.76" y="483.79" width="10.08" height="10.07" fill="#bad0f8"/>
<rect x="300.84" y="483.79" width="10.08" height="10.07" fill="#b2ccfb"/>
<rect x="309.92" y="483.79" width="10.08" height="10.07" fill="#aec9fc"/>
<rect x="319.01" y="483.79" width="10.08" height="10.07" fill="#adc9fd"/>
<rect x="328.09" y="483.79" width="10.08" height="10.07" fill="#aec9fc"/>
<rect x="337.18" y="483.79" width="10.08" height="10.07" fill="#b2ccfb"/>
<rect x="346.26" y="483.79" width="10.08" height="10.07" fill="#bad0f8"/>
<rect x="355.34" y="483.79" width="10.08" height="10.07" fill="#c4d5f3"/>
<rect x="364.43" y="483.79" width="10.08" height="10.07" fill="#d1dae9"/>
<rect x="373.51" y="483.79" width="10.08" height="10.07" fill="#dedcdb"/>
<rect x="382.60" y="483.79" width="10.08" height="10.07" fill="#ecd3c5"/>
<rect x="391.68" y="483.79" width="10.08" height="10.07" fill="#f5c1a9"/>
<rect x="400.76" y="483.79" width="10.08" height="10.07" fill="#f7a889"/>
<rect x="409.85" y="483.79" width="10.08" height="10.07" fill="#ee8468"/>
<rect x="418.93" y="483.79" width="10.08" height="10.07" fill="#d75445"/>
<rect x="428.02" y="483.79" width="9.08" height="10.07" fill="#b40426"/>
<rect x="210.00" y="492.86" width="10.08" height="10.07" fill="#b40426"/>
<rect x="219.08" y="492.86" width="10.08" height="10.07" fill="#d24b40"/>
<rect x="228.17" y="492.86" width="10.08" height="10.07" fill="#e8765c"/>
<rect x="237.25" y="492.86" width="10.08" height="10.07" fill="#f39778"/>
<rect x="246.34" y="492.86" width="10.08" height="10.07" fill="#f7b093"/>
<rect x="255.42" y="492.86" width="10.08" height="10.07" fill="#f5c1a9"/>
<rect x="264.50" y="492.86" width="10.08" height="10.07" fill="#efcebd"/>
<rect x="273.59" y="492.86" width="10.08" height="10.07" fill="#e7d7ce"/>
<rect x="282.67" y="492.86" width="10.08" height="10.07" fill="#dedcdb"/>
<rect x="291.76" y="492.86" width="10.08" height="10.07" fill="#d7dce3"/>
<rect x="300.84" y="492.86" width="10.08" height="10.07" fill="#d2dbe8"/>
<rect x="309.92" y="492.86" width="10.08" height="10.07" fill="#cedaeb"/>
<rect x="319.01" y="492.86" width="10.08" height="10.07" fill="#cdd9ec"/>
<rect x="328.09" y="492.86" width="10.08" height="10.07" fill="#cedaeb"/>
<rect x="337.18" y="492.86" width="10.08" height="10.07" fill="#d2dbe8"/>
<rect x="346.26" y="492.86" width="10.08" height="10.07" fill="#d7dce3"/>
<rect x="355.34" y="492.86" width="10.08" height="10.07" fill="#dedcdb"/>
<rect x="364.43" y="492.86" width="10.08" height="10.07" fill="#e7d7ce"/>
<rect x="373.51" y="492.86" width="10.08" height="10.07" fill="#efcebd"/>
<rect x="382.60" y="492.86" width="10.08" height="10.07" fill="#f5c1a9"/>
<rect x="391.68" y="492.86" width="10.08" height="10.07" fill="#f7b093"/>
<rect x="400.76" y="492.86" width="10.08" height="10.07" fill="#f39778"/>
<rect x="409.85" y="492.86" width="10.08" height="10.07" fill="#e8765c"/>
<rect x="418.93" y="492.86" width="10.08" height="10.07" fill="#d24b40"/>
<rect x="428.02" y="492.86" width="9.08" height="10.07" fill="#b40426"/>
<rect x="210.00" y="501.93" width="10.08" height="10.07" fill="#b40426"/>
<rect x="219.08" y="501.93" width="10.08" height="10.07" fill="#cc403a"/>
<rect x="228.17" y="501.93" width="10.08" height="10.07" fill="#e0654f"/>
<rect x="237.25" y="501.93" width="10.08" height="10.07" fill="#ec7f63"/>
<rect x="246.34" y="501.93" width="10.08" height="10.07" fill="#f39778"/>
<rect x="255.42" y="501.93" width="10.08" height="10.07" fill="#f7a889"/>
<rect x="264.50" y="501.93" width="10.08" height="10.07" fill="#f7b599"/>
<rect x="273.59" y="501.93" width="10.08" height="10.07" fill="#f5c0a7"/>
<rect x="282.67" y="501.93" width="10.08" height="10.07" fill="#f3c8b2"/>
<rect x="291.76" y="501.93" width="10.08" height="10.07" fill="#f1cdba"/>
<rect x="300.84" y="501.93" width="10.08" height="10.07" fill="#eed0c0"/>
<rect x="309.92" y="501.93" width="10.08" height="10.07" fill="#ecd3c5"/>
<rect x="319.01" y="501.93" width="10.08" height="10.07" fill="#ecd3c5"/>
<rect x="328.09" y="501.93" width="10.08" height="10.07" fill="#ecd3c5"/>
<rect x="337.18" y="501.93" width="10.08" height="10.07" fill="#eed0c0"/>
<rect x="346.26" y="501.93" width="10.08" height="10.07" fill="#f1cdba"/>
<rect x="355.34" y="501.93" width="10.08" height="10.07" fill="#f3c8b2"/>
<rect x="364.43" y="501.93" width="10.08" height="10.07" fill="#f5c0a7"/>
<rect x="373.51" y="501.93" width="10.08" height="10.07" fill="#f7b599"/>
<rect x="382.60" y="501.93" width="10.08" height="10.07" fill="#f7a889"/>
<rect x="391.68" y="501.93" width="10.08" height="10.07" fill="#f39778"/>
<rect x="400.76" y="501.93" width="10.08" height="10.07" fill="#ec7f63"/>
<rect x="409.85" y="501.93" width="10.08" height="10.07" fill="#e0654f"/>
<rect x="418.93" y="501.93" width="10.08" height="10.07" fill="#cc403a"/>
<rect x="428.02" y="501.93" width="9.08" height="10.07" fill="#b40426"/>
<rect x="210.00" y="511.00" width="10.08" height="10.07" fill="#b40426"/>
<rect x="219.08" y="511.00" width="10.08" height="10.07" fill="#c53334"/>
<rect x="228.17" y="511.00" width="10.08" height="10.07" fill="#d44e41"/>
<rect x="237.25" y="511.00" width="10.08" height="10.07" fill="#e0654f"/>
<rect x="246.34" y="511.00" width="10.08" height="10.07" fill="#e8765c"/>
<rect x="255.42" y="511.00" width="10.08" height="10.07" fill="#ee8468"/>
<rect x="264.50" y="511.00" width="10.08" height="10.07" fill="#f29072"/>
<rect x="273.59" y="511.00" width="10.08" height="10.07" fill="#f49a7b"/>
<rect x="282.67" y="511.00" width="10.08" height="10.07" fill="#f6a283"/>
<rect x="291.76" y="511.00" width="10.08" height="10.07" fill="#f7a889"/>
<rect x="300.84" y="511.00" width="10.08" height="10.07" fill="#f7ac8e"/>
<rect x="309.92" y="511.00" width="10.08" height="10.07" fill="#f7ad90"/>
<rect x="319.01" y="511.00" width="10.08" height="10.07" fill="#f7af91"/>
<rect x="328.09" y="511.00" width="10.08" height="10.07" fill="#f7ad90"/>
<rect x="337.18" y="511.00" width="10.08" height="10.07" fill="#f7ac8e"/>
<rect x="346.26" y="511.00" width="10.08" height="10.07" fill="#f7a889"/>
<rect x="355.34" y="511.00" width="10.08" height="10.07" fill="#f6a283"/>
<rect x="364.43" y="511.00" width="10.08" height="10.07" fill="#f49a7b"/>
<rect x="373.51" y="511.00" width="10.08" height="10.07" fill="#f29072"/>
<rect x="382.60" y="511.00" width="10.08" height="10.07" fill="#ee8468"/>
<rect x="391.68" y="511.00" width="10.08" height="10.07" fill="#e8765c"/>
<rect x="400.76" y="511.00" width="10.08" height="10.07" fill="#e0654f"/>
<rect x="409.85" y="511.00" width="10.08" height="10.07" fill="#d44e41"/>
<rect x="418.93" y="511.00" width="10.08" height="10.07" fill="#c53334"/>
<rect x="428.02" y="511.00" width="9.08" height="10.07" fill="#b40426"/>
<rect x="210.00" y="520.06" width="10.08" height="10.07" fill="#b40426"/>
<rect x="219.08" y="520.06" width="10.08" height="10.07" fill="#bd1f2d"/>
<rect x="228.17" y="520.06" width="10.08" height="10.07" fill="#c53334"/>
<rect x="237.25" y="520.06" width="10.08" height="10.07" fill="#cc403a"/>
<rect x="246.34" y="520.06" width="10.08" height="10.07" fill="#d24b40"/>
<rect x="255.42" y="520.06" width="10.08" height="10.07" fill="#d75445"/>
<rect x="264.50" y="520.06" width="10.08" height="10.07" fill="#dc5d4a"/>
<rect x="273.59" y="520.06" width="10.08" height="10.07" fill="#df634e"/>
<rect x="282.67" y="520.06" width="10.08" height="10.07" fill="#e26952"/>
<rect x="291.76" y="520.06" width="10.08" height="10.07" fill="#e36c55"/>
<rect x="300.84" y="520.06" width="10.08" height="10.07" fill="#e46e56"/>
<rect x="309.92" y="520.06" width="10.08" height="10.07" fill="#e57058"/>
<rect x="319.01" y="520.06" width="10.08" height="10.07" fill="#e57058"/>
<rect x="328.09" y="520.06" width="10.08" height="10.07" fill="#e57058"/>
<rect x="337.18" y="520.06" width="10.08" height="10.07" fill="#e46e56"/>
<rect x="346.26" y="520.06" width="10.08" height="10.07" fill="#e36c55"/>
<rect x="355.34" y="520.06" width="10.08" height="10.07" fill="#e26952"/>
<rect x="364.43" y="520.06" width="10.08" height="10.07" fill="#df634e"/>
<rect x="373.51" y="520.06" width="10.08" height="10.07" fill="#dc5d4a"/>
<rect x="382.60" y="520.06" width="10.08" height="10.07" fill="#d75445"/>
<rect x="391.68" y="520.06" width="10.08" height="10.07" fill="#d24b40"/>
<rect x="400.76" y="520.06" width="10.08" height="10.07" fill="#cc403a"/>
<rect x="409.85" y="520.06" width="10.08" height="10.07" fill="#c53334"/>
<rect x="418.93" y="520.06" width="10.08" height="10.07" fill="#bd1f2d"/>
<rect x="428.02" y="520.06" width="9.08" height="10.07" fill="#b40426"/>
<rect x="210.00" y="529.13" width="10.08" height="9.07" fill="#b40426"/>
<rect x="219.08" y="529.13" width="10.08" height="9.07" fill="#b40426"/>
<rect x="228.17" y="529.13" width="10.08" height="9.07" fill="#b40426"/>
<rect x="237.25" y="529.13" width="10.08" height="9.07" fill="#b40426"/>
<rect x="246.34" y="529.13" width="10.08" height="9.07" fill="#b40426"/>
<rect x="255.42" y="529.13" width="10.08" height="9.07" fill="#b40426"/>
<rect x="264.50" y="529.13" width="10.08" height="9.07" fill="#b40426"/>
<rect x="273.59" y="529.13" width="10.08" height="9.07" fill="#b40426"/>
<rect x="282.67" y="529.13" width="10.08" height="9.07" fill="#b40426"/>
<rect x="291.76" y="529.13" width="10.08" height="9.07" fill="#b40426"/>
<rect x="300.84" y="529.13" width="10.08" height="9.07" fill="#b40426"/>
<rect x="309.92" y="529.13" width="10.08" height="9.07" fill="#b40426"/>
<rect x="319.01" y="529.13" width="10.08" height="9.07" fill="#b40426"/>
<rect x="328.09" y="529.13" width="10.08" height="9.07" fill="#b40426"/>
<rect x="337.18" y="529.13" width="10.08" height="9.07" fill="#b40426"/>
<rect x="346.26" y="529.13" width="10.08" height="9.07" fill="#b40426"/>
<rect x="355.34" y="529.13" width="10.08" height="9.07" fill="#b40426"/>
<rect x="364.43" y="529.13" width="10.08" height="9.07" fill="#b40426"/>
<rect x="373.51" y="529.13" width="10.08" height="9.07" fill="#b40426"/>
<rect x="382.60" y="529.13" width="10.08" height="9.07" fill="#b40426"/>
<rect x="391.68" y="529.13" width="10.08" height="9.07" fill="#b40426"/>
<rect x="400.76" y="529.13" width="10.08" height="9.07" fill="#b40426"/>
<rect x="409.85" y="529.13" width="10.08" height="9.07" fill="#b40426"/>
<rect x="418.93" y="529.13" width="10.08" height="9.07" fill="#b40426"/>
<rect x="428.02" y="529.13" width="9.08" height="9.07" fill="#b40426"/>
</g>
<g stroke="#b4b4b4" stroke-width="0.65" stroke-dasharray="0.75 1.4" fill="none" opacity="0.6">
<path d="M240.28 311.5V538.2" stroke-dasharray="0.8 1.2"/>
<path d="M210.0 507.97H437.1"/>
<path d="M270.56 311.5V538.2" stroke-dasharray="0.8 1.2"/>
<path d="M210.0 477.75H437.1"/>
<path d="M300.84 311.5V538.2" stroke-dasharray="0.8 1.2"/>
<path d="M210.0 447.52H437.1"/>
<path d="M331.12 311.5V538.2" stroke-dasharray="0.8 1.2"/>
<path d="M210.0 417.29H437.1"/>
<path d="M361.40 311.5V538.2" stroke-dasharray="0.8 1.2"/>
<path d="M210.0 387.07H437.1"/>
<path d="M391.68 311.5V538.2" stroke-dasharray="0.8 1.2"/>
<path d="M210.0 356.84H437.1"/>
<path d="M421.96 311.5V538.2" stroke-dasharray="0.8 1.2"/>
<path d="M210.0 326.61H437.1"/>
</g>
<g stroke="#5a5a5a" stroke-width="0.8" fill="none">
<path d="M210.00 538.2v-2"/>
<path d="M210.0 538.20h2"/>
<path d="M240.28 538.2v-2"/>
<path d="M210.0 507.97h2"/>
<path d="M270.56 538.2v-2"/>
<path d="M210.0 477.75h2"/>
<path d="M300.84 538.2v-2"/>
<path d="M210.0 447.52h2"/>
<path d="M331.12 538.2v-2"/>
<path d="M210.0 417.29h2"/>
<path d="M361.40 538.2v-2"/>
<path d="M210.0 387.07h2"/>
<path d="M391.68 538.2v-2"/>
<path d="M210.0 356.84h2"/>
<path d="M421.96 538.2v-2"/>
<path d="M210.0 326.61h2"/>
</g>
<path d="M210.0 311.5V538.2H438.1" stroke="#555" stroke-width="0.7" fill="none" opacity="0.55"/>
<g font-family="'DejaVu Sans','Liberation Sans',sans-serif" font-size="8.0" fill="#383838" stroke="#383838" stroke-width="0.15">
<text x="210.00" y="547.5" text-anchor="middle">0.00</text>
<text x="207.40" y="541.60" text-anchor="end">0.00</text>
<text x="240.28" y="547.5" text-anchor="middle">0.02</text>
<text x="207.40" y="511.37" text-anchor="end">0.02</text>
<text x="270.56" y="547.5" text-anchor="middle">0.04</text>
<text x="207.40" y="481.15" text-anchor="end">0.04</text>
<text x="300.84" y="547.5" text-anchor="middle">0.06</text>
<text x="207.40" y="450.92" text-anchor="end">0.06</text>
<text x="331.12" y="547.5" text-anchor="middle">0.08</text>
<text x="207.40" y="420.69" text-anchor="end">0.08</text>
<text x="361.40" y="547.5" text-anchor="middle">0.10</text>
<text x="207.40" y="390.47" text-anchor="end">0.10</text>
<text x="391.68" y="547.5" text-anchor="middle">0.12</text>
<text x="207.40" y="360.24" text-anchor="end">0.12</text>
<text x="421.96" y="547.5" text-anchor="middle">0.14</text>
<text x="207.40" y="330.01" text-anchor="end">0.14</text>
<text x="323.55" y="557.6" text-anchor="middle">X (m)</text>
<text transform="translate(184.9 424.85) rotate(-90)" text-anchor="middle">Y (m)</text>
</g>
<defs><linearGradient id="gc" x1="0" y1="1" x2="0" y2="0">
<stop offset="0.0000" stop-color="#3b4cc0"/>
<stop offset="0.0156" stop-color="#3f53c6"/>
<stop offset="0.0312" stop-color="#445acc"/>
<stop offset="0.0469" stop-color="#4961d2"/>
<stop offset="0.0625" stop-color="#4e68d8"/>
<stop offset="0.0781" stop-color="#536edd"/>
<stop offset="0.0938" stop-color="#5875e1"/>
<stop offset="0.1094" stop-color="#5d7ce6"/>
<stop offset="0.1250" stop-color="#6282ea"/>
<stop offset="0.1406" stop-color="#6788ee"/>
<stop offset="0.1562" stop-color="#6c8ff1"/>
<stop offset="0.1719" stop-color="#7295f4"/>
<stop offset="0.1875" stop-color="#779af7"/>
<stop offset="0.2031" stop-color="#7da0f9"/>
<stop offset="0.2188" stop-color="#82a6fb"/>
<stop offset="0.2344" stop-color="#88abfd"/>
<stop offset="0.2500" stop-color="#8db0fe"/>
<stop offset="0.2656" stop-color="#93b5fe"/>
<stop offset="0.2812" stop-color="#98b9ff"/>
<stop offset="0.2969" stop-color="#9ebeff"/>
<stop offset="0.3125" stop-color="#a3c2fe"/>
<stop offset="0.3281" stop-color="#a9c6fd"/>
<stop offset="0.3438" stop-color="#aec9fc"/>
<stop offset="0.3594" stop-color="#b3cdfb"/>
<stop offset="0.3750" stop-color="#b9d0f9"/>
<stop offset="0.3906" stop-color="#bed2f6"/>
<stop offset="0.4062" stop-color="#c3d5f4"/>
<stop offset="0.4219" stop-color="#c7d7f0"/>
<stop offset="0.4375" stop-color="#ccd9ed"/>
<stop offset="0.4531" stop-color="#d1dae9"/>
<stop offset="0.4688" stop-color="#d5dbe5"/>
<stop offset="0.4844" stop-color="#d9dce1"/>
<stop offset="0.5000" stop-color="#dddcdc"/>
<stop offset="0.5156" stop-color="#e1dad6"/>
<stop offset="0.5312" stop-color="#e5d8d1"/>
<stop offset="0.5469" stop-color="#e9d5cb"/>
<stop offset="0.5625" stop-color="#ecd3c5"/>
<stop offset="0.5781" stop-color="#efcfbf"/>
<stop offset="0.5938" stop-color="#f1ccb8"/>
<stop offset="0.6094" stop-color="#f3c8b2"/>
<stop offset="0.6250" stop-color="#f5c4ac"/>
<stop offset="0.6406" stop-color="#f6bfa6"/>
<stop offset="0.6562" stop-color="#f7ba9f"/>
<stop offset="0.6719" stop-color="#f7b599"/>
<stop offset="0.6875" stop-color="#f7b093"/>
<stop offset="0.7031" stop-color="#f7aa8c"/>
<stop offset="0.7188" stop-color="#f6a586"/>
<stop offset="0.7344" stop-color="#f59f80"/>
<stop offset="0.7500" stop-color="#f4987a"/>
<stop offset="0.7656" stop-color="#f29274"/>
<stop offset="0.7812" stop-color="#f08b6e"/>
<stop offset="0.7969" stop-color="#ee8468"/>
<stop offset="0.8125" stop-color="#eb7d62"/>
<stop offset="0.8281" stop-color="#e8765c"/>
<stop offset="0.8438" stop-color="#e46e56"/>
<stop offset="0.8594" stop-color="#e16751"/>
<stop offset="0.8750" stop-color="#dd5f4b"/>
<stop offset="0.8906" stop-color="#d85646"/>
<stop offset="0.9062" stop-color="#d44e41"/>
<stop offset="0.9219" stop-color="#cf453c"/>
<stop offset="0.9375" stop-color="#ca3b37"/>
<stop offset="0.9531" stop-color="#c43032"/>
<stop offset="0.9688" stop-color="#be242e"/>
<stop offset="0.9844" stop-color="#b8122a"/>
<stop offset="1.0000" stop-color="#b40426"/>
</linearGradient></defs>
<rect x="452.8" y="311.6" width="11.70" height="226.70" fill="url(#gc)" stroke="#666" stroke-width="0.7"/>
<g stroke="#5a5a5a" stroke-width="0.8" fill="none">
<path d="M464.5 534.60h-2"/>
<path d="M464.5 508.85h-2"/>
<path d="M464.5 483.10h-2"/>
<path d="M464.5 457.35h-2"/>
<path d="M464.5 431.60h-2"/>
<path d="M464.5 405.85h-2"/>
<path d="M464.5 380.10h-2"/>
<path d="M464.5 354.35h-2"/>
<path d="M464.5 328.60h-2"/>
</g>
<g font-family="'DejaVu Sans','Liberation Sans',sans-serif" font-size="8.0" fill="#383838" stroke="#383838" stroke-width="0.15">
<text x="466.5" y="537.70" letter-spacing="0.3">0.6</text>
<text x="466.5" y="511.95" letter-spacing="0.3">0.8</text>
<text x="466.5" y="486.20" letter-spacing="0.3">1.0</text>
<text x="466.5" y="460.45" letter-spacing="0.3">1.2</text>
<text x="466.5" y="434.70" letter-spacing="0.3">1.4</text>
<text x="466.5" y="408.95" letter-spacing="0.3">1.6</text>
<text x="466.5" y="383.20" letter-spacing="0.3">1.8</text>
<text x="466.5" y="357.45" letter-spacing="0.3">2.0</text>
<text x="466.5" y="331.70" letter-spacing="0.3">2.2</text>
<text x="450.0" y="305.9" letter-spacing="0.55">1e8</text>
<text transform="translate(488.4 424.85) rotate(-90)" text-anchor="middle">Thermal Stress (Pa)</text>
</g>
<g font-family="'Liberation Serif','Times New Roman',serif" font-size="18.67" fill="#111" stroke="#111" stroke-width="0.2" text-anchor="middle">
<text x="246" y="268.8">(a)</text>
<text x="487" y="268.8">(b)</text>
<text x="306.3" y="592.3">(c)</text>
</g>
</svg>
</body></html>
